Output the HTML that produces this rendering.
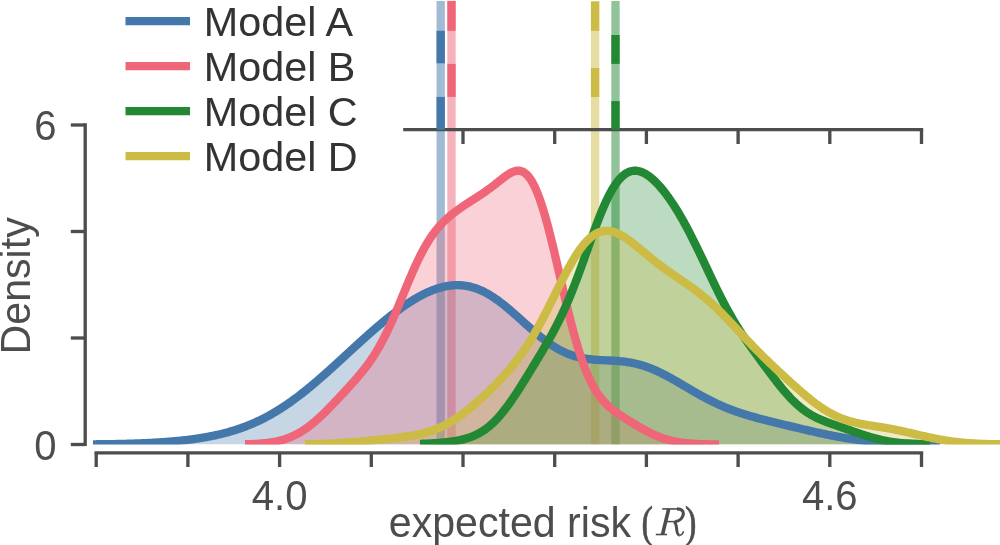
<!DOCTYPE html>
<html><head><meta charset="utf-8"><title>Density of expected risk</title>
<style>html,body{margin:0;padding:0;background:#fff;}body{width:1000px;height:545px;overflow:hidden;}svg{display:block;will-change:transform;}text{font-family:"Liberation Sans",sans-serif;}.m{font-family:"Liberation Serif",serif;}</style></head><body>
<svg width="1000" height="545" viewBox="0 0 1000 545">
<rect x="0" y="0" width="1000" height="545" fill="#ffffff"/>
<defs><clipPath id="ax"><rect x="0" y="-10" width="1000" height="454.6"/></clipPath></defs>
<g clip-path="url(#ax)">
<line x1="440.7" y1="0.9" x2="440.7" y2="444.5" stroke="#4477AA" stroke-opacity="0.5" stroke-width="8.33"/>
<line x1="451.5" y1="0.9" x2="451.5" y2="444.5" stroke="#EE6677" stroke-opacity="0.5" stroke-width="8.33"/>
<line x1="615.5" y1="0.9" x2="615.5" y2="444.5" stroke="#228833" stroke-opacity="0.5" stroke-width="8.33"/>
<line x1="595.1" y1="1.4" x2="595.1" y2="444.5" stroke="#CCBB44" stroke-opacity="0.5" stroke-width="8.33"/>
<path d="M93.0,444.32 L94.0,444.31 L95.0,444.30 L96.0,444.29 L97.0,444.28 L98.0,444.27 L99.0,444.26 L100.0,444.25 L101.0,444.24 L102.0,444.23 L103.0,444.22 L104.0,444.20 L105.0,444.19 L106.0,444.18 L107.0,444.16 L108.0,444.15 L109.0,444.14 L110.0,444.12 L111.0,444.11 L112.0,444.09 L113.0,444.07 L114.0,444.06 L115.0,444.04 L116.0,444.02 L117.0,444.00 L118.0,443.98 L119.0,443.96 L120.0,443.94 L121.0,443.92 L122.0,443.89 L123.0,443.87 L124.0,443.85 L125.0,443.82 L126.0,443.80 L127.0,443.77 L128.0,443.74 L129.0,443.72 L130.0,443.69 L131.0,443.66 L132.0,443.63 L133.0,443.60 L134.0,443.56 L135.0,443.53 L136.0,443.50 L137.0,443.46 L138.0,443.43 L139.0,443.39 L140.0,443.35 L141.0,443.31 L142.0,443.27 L143.0,443.23 L144.0,443.19 L145.0,443.14 L146.0,443.10 L147.0,443.05 L148.0,443.00 L149.0,442.96 L150.0,442.91 L151.0,442.86 L152.0,442.80 L153.0,442.75 L154.0,442.69 L155.0,442.64 L156.0,442.58 L157.0,442.52 L158.0,442.46 L159.0,442.40 L160.0,442.33 L161.0,442.27 L162.0,442.20 L163.0,442.13 L164.0,442.06 L165.0,441.99 L166.0,441.92 L167.0,441.84 L168.0,441.76 L169.0,441.69 L170.0,441.60 L171.0,441.52 L172.0,441.44 L173.0,441.35 L174.0,441.26 L175.0,441.17 L176.0,441.08 L177.0,440.98 L178.0,440.89 L179.0,440.79 L180.0,440.69 L181.0,440.58 L182.0,440.48 L183.0,440.37 L184.0,440.26 L185.0,440.15 L186.0,440.03 L187.0,439.91 L188.0,439.79 L189.0,439.67 L190.0,439.54 L191.0,439.42 L192.0,439.29 L193.0,439.15 L194.0,439.01 L195.0,438.87 L196.0,438.73 L197.0,438.59 L198.0,438.44 L199.0,438.28 L200.0,438.13 L201.0,437.97 L202.0,437.81 L203.0,437.64 L204.0,437.47 L205.0,437.30 L206.0,437.12 L207.0,436.94 L208.0,436.76 L209.0,436.57 L210.0,436.38 L211.0,436.19 L212.0,435.99 L213.0,435.78 L214.0,435.58 L215.0,435.36 L216.0,435.15 L217.0,434.93 L218.0,434.70 L219.0,434.47 L220.0,434.24 L221.0,434.00 L222.0,433.75 L223.0,433.51 L224.0,433.25 L225.0,432.99 L226.0,432.73 L227.0,432.46 L228.0,432.19 L229.0,431.91 L230.0,431.62 L231.0,431.33 L232.0,431.04 L233.0,430.73 L234.0,430.43 L235.0,430.11 L236.0,429.79 L237.0,429.47 L238.0,429.14 L239.0,428.80 L240.0,428.46 L241.0,428.11 L242.0,427.75 L243.0,427.39 L244.0,427.02 L245.0,426.65 L246.0,426.26 L247.0,425.87 L248.0,425.48 L249.0,425.08 L250.0,424.67 L251.0,424.25 L252.0,423.83 L253.0,423.40 L254.0,422.96 L255.0,422.52 L256.0,422.07 L257.0,421.61 L258.0,421.14 L259.0,420.67 L260.0,420.19 L261.0,419.70 L262.0,419.21 L263.0,418.71 L264.0,418.20 L265.0,417.68 L266.0,417.15 L267.0,416.62 L268.0,416.08 L269.0,415.53 L270.0,414.98 L271.0,414.42 L272.0,413.85 L273.0,413.27 L274.0,412.69 L275.0,412.09 L276.0,411.49 L277.0,410.89 L278.0,410.27 L279.0,409.65 L280.0,409.02 L281.0,408.38 L282.0,407.74 L283.0,407.09 L284.0,406.43 L285.0,405.76 L286.0,405.09 L287.0,404.41 L288.0,403.72 L289.0,403.03 L290.0,402.33 L291.0,401.62 L292.0,400.90 L293.0,400.18 L294.0,399.45 L295.0,398.72 L296.0,397.97 L297.0,397.23 L298.0,396.47 L299.0,395.71 L300.0,394.94 L301.0,394.17 L302.0,393.39 L303.0,392.61 L304.0,391.82 L305.0,391.02 L306.0,390.22 L307.0,389.41 L308.0,388.60 L309.0,387.78 L310.0,386.96 L311.0,386.13 L312.0,385.29 L313.0,384.46 L314.0,383.61 L315.0,382.77 L316.0,381.91 L317.0,381.06 L318.0,380.20 L319.0,379.33 L320.0,378.46 L321.0,377.59 L322.0,376.72 L323.0,375.84 L324.0,374.96 L325.0,374.07 L326.0,373.18 L327.0,372.29 L328.0,371.39 L329.0,370.50 L330.0,369.60 L331.0,368.69 L332.0,367.79 L333.0,366.88 L334.0,365.98 L335.0,365.07 L336.0,364.15 L337.0,363.24 L338.0,362.32 L339.0,361.41 L340.0,360.49 L341.0,359.57 L342.0,358.65 L343.0,357.73 L344.0,356.81 L345.0,355.89 L346.0,354.97 L347.0,354.05 L348.0,353.13 L349.0,352.21 L350.0,351.29 L351.0,350.37 L352.0,349.45 L353.0,348.53 L354.0,347.62 L355.0,346.70 L356.0,345.78 L357.0,344.87 L358.0,343.96 L359.0,343.05 L360.0,342.14 L361.0,341.23 L362.0,340.33 L363.0,339.43 L364.0,338.53 L365.0,337.63 L366.0,336.73 L367.0,335.84 L368.0,334.95 L369.0,334.06 L370.0,333.18 L371.0,332.30 L372.0,331.42 L373.0,330.55 L374.0,329.68 L375.0,328.82 L376.0,327.96 L377.0,327.10 L378.0,326.25 L379.0,325.40 L380.0,324.55 L381.0,323.71 L382.0,322.88 L383.0,322.05 L384.0,321.22 L385.0,320.41 L386.0,319.59 L387.0,318.78 L388.0,317.98 L389.0,317.18 L390.0,316.39 L391.0,315.61 L392.0,314.83 L393.0,314.05 L394.0,313.29 L395.0,312.53 L396.0,311.77 L397.0,311.03 L398.0,310.29 L399.0,309.56 L400.0,308.83 L401.0,308.11 L402.0,307.40 L403.0,306.70 L404.0,306.01 L405.0,305.32 L406.0,304.64 L407.0,303.97 L408.0,303.31 L409.0,302.66 L410.0,302.02 L411.0,301.38 L412.0,300.76 L413.0,300.14 L414.0,299.53 L415.0,298.94 L416.0,298.35 L417.0,297.77 L418.0,297.20 L419.0,296.65 L420.0,296.10 L421.0,295.57 L422.0,295.04 L423.0,294.53 L424.0,294.03 L425.0,293.54 L426.0,293.06 L427.0,292.59 L428.0,292.14 L429.0,291.69 L430.0,291.26 L431.0,290.85 L432.0,290.44 L433.0,290.05 L434.0,289.67 L435.0,289.31 L436.0,288.96 L437.0,288.62 L438.0,288.30 L439.0,287.99 L440.0,287.70 L441.0,287.42 L442.0,287.16 L443.0,286.91 L444.0,286.68 L445.0,286.46 L446.0,286.26 L447.0,286.08 L448.0,285.91 L449.0,285.76 L450.0,285.62 L451.0,285.50 L452.0,285.40 L453.0,285.32 L454.0,285.25 L455.0,285.20 L456.0,285.17 L457.0,285.15 L458.0,285.16 L459.0,285.18 L460.0,285.22 L461.0,285.28 L462.0,285.35 L463.0,285.45 L464.0,285.56 L465.0,285.70 L466.0,285.85 L467.0,286.02 L468.0,286.21 L469.0,286.42 L470.0,286.65 L471.0,286.90 L472.0,287.16 L473.0,287.45 L474.0,287.75 L475.0,288.08 L476.0,288.42 L477.0,288.78 L478.0,289.16 L479.0,289.56 L480.0,289.98 L481.0,290.42 L482.0,290.87 L483.0,291.35 L484.0,291.84 L485.0,292.35 L486.0,292.87 L487.0,293.42 L488.0,293.98 L489.0,294.56 L490.0,295.16 L491.0,295.77 L492.0,296.40 L493.0,297.04 L494.0,297.70 L495.0,298.38 L496.0,299.07 L497.0,299.77 L498.0,300.49 L499.0,301.22 L500.0,301.97 L501.0,302.72 L502.0,303.49 L503.0,304.28 L504.0,305.07 L505.0,305.87 L506.0,306.69 L507.0,307.51 L508.0,308.35 L509.0,309.19 L510.0,310.04 L511.0,310.90 L512.0,311.77 L513.0,312.64 L514.0,313.52 L515.0,314.40 L516.0,315.29 L517.0,316.18 L518.0,317.07 L519.0,317.97 L520.0,318.87 L521.0,319.77 L522.0,320.68 L523.0,321.58 L524.0,322.48 L525.0,323.39 L526.0,324.29 L527.0,325.19 L528.0,326.08 L529.0,326.97 L530.0,327.86 L531.0,328.74 L532.0,329.62 L533.0,330.50 L534.0,331.36 L535.0,332.22 L536.0,333.07 L537.0,333.92 L538.0,334.75 L539.0,335.58 L540.0,336.39 L541.0,337.20 L542.0,337.99 L543.0,338.78 L544.0,339.55 L545.0,340.31 L546.0,341.06 L547.0,341.80 L548.0,342.52 L549.0,343.23 L550.0,343.92 L551.0,344.60 L552.0,345.27 L553.0,345.92 L554.0,346.56 L555.0,347.18 L556.0,347.78 L557.0,348.38 L558.0,348.95 L559.0,349.51 L560.0,350.05 L561.0,350.58 L562.0,351.09 L563.0,351.58 L564.0,352.06 L565.0,352.52 L566.0,352.97 L567.0,353.39 L568.0,353.81 L569.0,354.20 L570.0,354.58 L571.0,354.95 L572.0,355.30 L573.0,355.63 L574.0,355.95 L575.0,356.26 L576.0,356.55 L577.0,356.82 L578.0,357.08 L579.0,357.33 L580.0,357.56 L581.0,357.78 L582.0,357.99 L583.0,358.19 L584.0,358.37 L585.0,358.54 L586.0,358.70 L587.0,358.85 L588.0,358.99 L589.0,359.12 L590.0,359.24 L591.0,359.36 L592.0,359.46 L593.0,359.56 L594.0,359.65 L595.0,359.73 L596.0,359.80 L597.0,359.87 L598.0,359.94 L599.0,360.00 L600.0,360.06 L601.0,360.11 L602.0,360.16 L603.0,360.21 L604.0,360.26 L605.0,360.30 L606.0,360.34 L607.0,360.39 L608.0,360.43 L609.0,360.48 L610.0,360.53 L611.0,360.58 L612.0,360.63 L613.0,360.68 L614.0,360.74 L615.0,360.80 L616.0,360.87 L617.0,360.94 L618.0,361.01 L619.0,361.10 L620.0,361.19 L621.0,361.28 L622.0,361.38 L623.0,361.49 L624.0,361.61 L625.0,361.73 L626.0,361.87 L627.0,362.01 L628.0,362.16 L629.0,362.32 L630.0,362.49 L631.0,362.67 L632.0,362.86 L633.0,363.05 L634.0,363.26 L635.0,363.48 L636.0,363.71 L637.0,363.95 L638.0,364.21 L639.0,364.47 L640.0,364.74 L641.0,365.03 L642.0,365.32 L643.0,365.63 L644.0,365.95 L645.0,366.28 L646.0,366.62 L647.0,366.97 L648.0,367.33 L649.0,367.70 L650.0,368.08 L651.0,368.48 L652.0,368.88 L653.0,369.30 L654.0,369.72 L655.0,370.15 L656.0,370.60 L657.0,371.05 L658.0,371.51 L659.0,371.98 L660.0,372.46 L661.0,372.95 L662.0,373.44 L663.0,373.94 L664.0,374.46 L665.0,374.97 L666.0,375.50 L667.0,376.03 L668.0,376.57 L669.0,377.11 L670.0,377.66 L671.0,378.21 L672.0,378.77 L673.0,379.34 L674.0,379.90 L675.0,380.48 L676.0,381.05 L677.0,381.63 L678.0,382.21 L679.0,382.79 L680.0,383.38 L681.0,383.96 L682.0,384.55 L683.0,385.14 L684.0,385.73 L685.0,386.32 L686.0,386.91 L687.0,387.50 L688.0,388.09 L689.0,388.68 L690.0,389.27 L691.0,389.85 L692.0,390.44 L693.0,391.02 L694.0,391.60 L695.0,392.17 L696.0,392.75 L697.0,393.32 L698.0,393.88 L699.0,394.44 L700.0,395.00 L701.0,395.56 L702.0,396.11 L703.0,396.65 L704.0,397.19 L705.0,397.73 L706.0,398.26 L707.0,398.79 L708.0,399.31 L709.0,399.82 L710.0,400.33 L711.0,400.83 L712.0,401.33 L713.0,401.82 L714.0,402.31 L715.0,402.79 L716.0,403.26 L717.0,403.73 L718.0,404.19 L719.0,404.65 L720.0,405.09 L721.0,405.54 L722.0,405.97 L723.0,406.40 L724.0,406.83 L725.0,407.25 L726.0,407.66 L727.0,408.06 L728.0,408.46 L729.0,408.86 L730.0,409.25 L731.0,409.63 L732.0,410.01 L733.0,410.38 L734.0,410.74 L735.0,411.10 L736.0,411.46 L737.0,411.81 L738.0,412.15 L739.0,412.49 L740.0,412.83 L741.0,413.16 L742.0,413.48 L743.0,413.80 L744.0,414.12 L745.0,414.43 L746.0,414.74 L747.0,415.04 L748.0,415.34 L749.0,415.64 L750.0,415.93 L751.0,416.22 L752.0,416.51 L753.0,416.80 L754.0,417.08 L755.0,417.35 L756.0,417.63 L757.0,417.90 L758.0,418.17 L759.0,418.44 L760.0,418.71 L761.0,418.97 L762.0,419.23 L763.0,419.49 L764.0,419.75 L765.0,420.01 L766.0,420.26 L767.0,420.52 L768.0,420.77 L769.0,421.02 L770.0,421.27 L771.0,421.52 L772.0,421.77 L773.0,422.01 L774.0,422.26 L775.0,422.51 L776.0,422.75 L777.0,423.00 L778.0,423.24 L779.0,423.48 L780.0,423.73 L781.0,423.97 L782.0,424.21 L783.0,424.45 L784.0,424.69 L785.0,424.94 L786.0,425.18 L787.0,425.42 L788.0,425.66 L789.0,425.90 L790.0,426.14 L791.0,426.38 L792.0,426.62 L793.0,426.86 L794.0,427.09 L795.0,427.33 L796.0,427.57 L797.0,427.81 L798.0,428.05 L799.0,428.28 L800.0,428.52 L801.0,428.76 L802.0,428.99 L803.0,429.23 L804.0,429.46 L805.0,429.70 L806.0,429.93 L807.0,430.16 L808.0,430.39 L809.0,430.62 L810.0,430.85 L811.0,431.08 L812.0,431.31 L813.0,431.54 L814.0,431.76 L815.0,431.99 L816.0,432.21 L817.0,432.44 L818.0,432.66 L819.0,432.88 L820.0,433.10 L821.0,433.31 L822.0,433.53 L823.0,433.74 L824.0,433.95 L825.0,434.17 L826.0,434.37 L827.0,434.58 L828.0,434.79 L829.0,434.99 L830.0,435.19 L831.0,435.39 L832.0,435.59 L833.0,435.78 L834.0,435.98 L835.0,436.17 L836.0,436.36 L837.0,436.54 L838.0,436.73 L839.0,436.91 L840.0,437.09 L841.0,437.27 L842.0,437.44 L843.0,437.62 L844.0,437.79 L845.0,437.95 L846.0,438.12 L847.0,438.28 L848.0,438.44 L849.0,438.60 L850.0,438.75 L851.0,438.91 L852.0,439.06 L853.0,439.20 L854.0,439.35 L855.0,439.49 L856.0,439.63 L857.0,439.77 L858.0,439.90 L859.0,440.03 L860.0,440.16 L861.0,440.29 L862.0,440.41 L863.0,440.53 L864.0,440.65 L865.0,440.77 L866.0,440.88 L867.0,440.99 L868.0,441.10 L869.0,441.21 L870.0,441.31 L871.0,441.42 L872.0,441.51 L873.0,441.61 L874.0,441.71 L875.0,441.80 L876.0,441.89 L877.0,441.97 L878.0,442.06 L879.0,442.14 L880.0,442.22 L881.0,442.30 L882.0,442.38 L883.0,442.45 L884.0,442.53 L885.0,442.60 L886.0,442.66 L887.0,442.73 L888.0,442.80 L889.0,442.86 L890.0,442.92 L891.0,442.98 L892.0,443.04 L893.0,443.09 L894.0,443.14 L895.0,443.20 L896.0,443.25 L897.0,443.30 L898.0,443.34 L899.0,443.39 L900.0,443.43 L901.0,443.48 L902.0,443.52 L903.0,443.56 L904.0,443.60 L905.0,443.63 L906.0,443.67 L907.0,443.70 L908.0,443.74 L909.0,443.77 L910.0,443.80 L911.0,443.83 L912.0,443.86 L913.0,443.89 L914.0,443.91 L915.0,443.94 L916.0,443.96 L917.0,443.99 L918.0,444.01 L919.0,444.03 L920.0,444.05 L921.0,444.07 L922.0,444.09 L923.0,444.11 L924.0,444.13 L925.0,444.15 L926.0,444.16 L927.0,444.18 L928.0,444.19 L929.0,444.21 L930.0,444.22 L931.0,444.24 L932.0,444.25 L933.0,444.26 L934.0,444.27 L935.0,444.28 L936.0,444.30 L937.0,444.31 L938.0,444.32 L939.0,444.32 L940.0,444.33 L940.0,444.5 L93.0,444.5 Z" fill="#4477AA" fill-opacity="0.3" stroke="none"/>
<path d="M245.0,444.26 L246.0,444.24 L247.0,444.21 L248.0,444.18 L249.0,444.15 L250.0,444.12 L251.0,444.08 L252.0,444.04 L253.0,444.00 L254.0,443.95 L255.0,443.90 L256.0,443.85 L257.0,443.79 L258.0,443.73 L259.0,443.66 L260.0,443.59 L261.0,443.51 L262.0,443.43 L263.0,443.34 L264.0,443.24 L265.0,443.14 L266.0,443.03 L267.0,442.91 L268.0,442.79 L269.0,442.66 L270.0,442.52 L271.0,442.37 L272.0,442.21 L273.0,442.04 L274.0,441.86 L275.0,441.67 L276.0,441.47 L277.0,441.26 L278.0,441.04 L279.0,440.80 L280.0,440.55 L281.0,440.29 L282.0,440.01 L283.0,439.73 L284.0,439.42 L285.0,439.11 L286.0,438.77 L287.0,438.42 L288.0,438.06 L289.0,437.68 L290.0,437.28 L291.0,436.87 L292.0,436.44 L293.0,435.99 L294.0,435.52 L295.0,435.04 L296.0,434.54 L297.0,434.02 L298.0,433.48 L299.0,432.92 L300.0,432.34 L301.0,431.74 L302.0,431.13 L303.0,430.50 L304.0,429.84 L305.0,429.17 L306.0,428.48 L307.0,427.77 L308.0,427.05 L309.0,426.30 L310.0,425.54 L311.0,424.76 L312.0,423.96 L313.0,423.14 L314.0,422.31 L315.0,421.46 L316.0,420.60 L317.0,419.72 L318.0,418.83 L319.0,417.92 L320.0,416.99 L321.0,416.06 L322.0,415.11 L323.0,414.15 L324.0,413.18 L325.0,412.20 L326.0,411.21 L327.0,410.21 L328.0,409.20 L329.0,408.18 L330.0,407.15 L331.0,406.12 L332.0,405.08 L333.0,404.04 L334.0,402.99 L335.0,401.94 L336.0,400.88 L337.0,399.82 L338.0,398.75 L339.0,397.69 L340.0,396.62 L341.0,395.54 L342.0,394.47 L343.0,393.39 L344.0,392.31 L345.0,391.23 L346.0,390.14 L347.0,389.05 L348.0,387.96 L349.0,386.87 L350.0,385.77 L351.0,384.67 L352.0,383.56 L353.0,382.44 L354.0,381.32 L355.0,380.19 L356.0,379.05 L357.0,377.90 L358.0,376.73 L359.0,375.56 L360.0,374.37 L361.0,373.17 L362.0,371.94 L363.0,370.70 L364.0,369.44 L365.0,368.16 L366.0,366.86 L367.0,365.53 L368.0,364.17 L369.0,362.78 L370.0,361.37 L371.0,359.93 L372.0,358.45 L373.0,356.94 L374.0,355.39 L375.0,353.81 L376.0,352.19 L377.0,350.54 L378.0,348.84 L379.0,347.10 L380.0,345.33 L381.0,343.51 L382.0,341.66 L383.0,339.76 L384.0,337.82 L385.0,335.85 L386.0,333.83 L387.0,331.77 L388.0,329.68 L389.0,327.55 L390.0,325.38 L391.0,323.18 L392.0,320.95 L393.0,318.69 L394.0,316.40 L395.0,314.08 L396.0,311.74 L397.0,309.38 L398.0,307.00 L399.0,304.60 L400.0,302.19 L401.0,299.78 L402.0,297.35 L403.0,294.93 L404.0,292.50 L405.0,290.08 L406.0,287.66 L407.0,285.26 L408.0,282.86 L409.0,280.49 L410.0,278.13 L411.0,275.79 L412.0,273.48 L413.0,271.20 L414.0,268.95 L415.0,266.73 L416.0,264.55 L417.0,262.41 L418.0,260.30 L419.0,258.24 L420.0,256.22 L421.0,254.25 L422.0,252.32 L423.0,250.43 L424.0,248.60 L425.0,246.81 L426.0,245.07 L427.0,243.38 L428.0,241.74 L429.0,240.15 L430.0,238.60 L431.0,237.11 L432.0,235.65 L433.0,234.25 L434.0,232.89 L435.0,231.57 L436.0,230.29 L437.0,229.06 L438.0,227.86 L439.0,226.70 L440.0,225.58 L441.0,224.49 L442.0,223.43 L443.0,222.41 L444.0,221.41 L445.0,220.44 L446.0,219.50 L447.0,218.58 L448.0,217.69 L449.0,216.82 L450.0,215.97 L451.0,215.14 L452.0,214.32 L453.0,213.52 L454.0,212.74 L455.0,211.97 L456.0,211.22 L457.0,210.48 L458.0,209.75 L459.0,209.03 L460.0,208.32 L461.0,207.62 L462.0,206.93 L463.0,206.24 L464.0,205.57 L465.0,204.90 L466.0,204.23 L467.0,203.58 L468.0,202.92 L469.0,202.27 L470.0,201.63 L471.0,200.99 L472.0,200.35 L473.0,199.71 L474.0,199.07 L475.0,198.43 L476.0,197.79 L477.0,197.15 L478.0,196.50 L479.0,195.85 L480.0,195.20 L481.0,194.54 L482.0,193.87 L483.0,193.20 L484.0,192.52 L485.0,191.83 L486.0,191.13 L487.0,190.43 L488.0,189.71 L489.0,188.98 L490.0,188.24 L491.0,187.50 L492.0,186.74 L493.0,185.97 L494.0,185.20 L495.0,184.42 L496.0,183.63 L497.0,182.83 L498.0,182.04 L499.0,181.24 L500.0,180.44 L501.0,179.65 L502.0,178.86 L503.0,178.09 L504.0,177.33 L505.0,176.58 L506.0,175.86 L507.0,175.17 L508.0,174.50 L509.0,173.87 L510.0,173.28 L511.0,172.74 L512.0,172.25 L513.0,171.81 L514.0,171.44 L515.0,171.14 L516.0,170.91 L517.0,170.76 L518.0,170.69 L519.0,170.72 L520.0,170.85 L521.0,171.07 L522.0,171.41 L523.0,171.85 L524.0,172.42 L525.0,173.10 L526.0,173.92 L527.0,174.86 L528.0,175.94 L529.0,177.15 L530.0,178.50 L531.0,180.00 L532.0,181.64 L533.0,183.42 L534.0,185.35 L535.0,187.42 L536.0,189.64 L537.0,192.00 L538.0,194.50 L539.0,197.15 L540.0,199.93 L541.0,202.85 L542.0,205.90 L543.0,209.07 L544.0,212.37 L545.0,215.79 L546.0,219.31 L547.0,222.95 L548.0,226.68 L549.0,230.50 L550.0,234.41 L551.0,238.40 L552.0,242.46 L553.0,246.59 L554.0,250.76 L555.0,254.99 L556.0,259.26 L557.0,263.55 L558.0,267.87 L559.0,272.20 L560.0,276.54 L561.0,280.88 L562.0,285.21 L563.0,289.52 L564.0,293.81 L565.0,298.06 L566.0,302.28 L567.0,306.45 L568.0,310.57 L569.0,314.63 L570.0,318.62 L571.0,322.55 L572.0,326.40 L573.0,330.18 L574.0,333.87 L575.0,337.47 L576.0,340.99 L577.0,344.41 L578.0,347.74 L579.0,350.97 L580.0,354.11 L581.0,357.14 L582.0,360.07 L583.0,362.90 L584.0,365.64 L585.0,368.27 L586.0,370.80 L587.0,373.23 L588.0,375.57 L589.0,377.80 L590.0,379.95 L591.0,382.00 L592.0,383.97 L593.0,385.84 L594.0,387.64 L595.0,389.35 L596.0,390.98 L597.0,392.54 L598.0,394.02 L599.0,395.44 L600.0,396.79 L601.0,398.08 L602.0,399.32 L603.0,400.49 L604.0,401.62 L605.0,402.69 L606.0,403.72 L607.0,404.71 L608.0,405.66 L609.0,406.57 L610.0,407.46 L611.0,408.31 L612.0,409.13 L613.0,409.93 L614.0,410.70 L615.0,411.45 L616.0,412.19 L617.0,412.91 L618.0,413.61 L619.0,414.31 L620.0,414.99 L621.0,415.66 L622.0,416.32 L623.0,416.97 L624.0,417.62 L625.0,418.26 L626.0,418.89 L627.0,419.53 L628.0,420.15 L629.0,420.78 L630.0,421.39 L631.0,422.01 L632.0,422.62 L633.0,423.23 L634.0,423.84 L635.0,424.44 L636.0,425.03 L637.0,425.63 L638.0,426.22 L639.0,426.80 L640.0,427.38 L641.0,427.95 L642.0,428.51 L643.0,429.07 L644.0,429.63 L645.0,430.17 L646.0,430.71 L647.0,431.24 L648.0,431.75 L649.0,432.26 L650.0,432.76 L651.0,433.25 L652.0,433.73 L653.0,434.20 L654.0,434.66 L655.0,435.10 L656.0,435.54 L657.0,435.96 L658.0,436.37 L659.0,436.77 L660.0,437.15 L661.0,437.53 L662.0,437.89 L663.0,438.23 L664.0,438.57 L665.0,438.89 L666.0,439.20 L667.0,439.50 L668.0,439.79 L669.0,440.06 L670.0,440.32 L671.0,440.57 L672.0,440.81 L673.0,441.04 L674.0,441.26 L675.0,441.47 L676.0,441.66 L677.0,441.85 L678.0,442.03 L679.0,442.19 L680.0,442.35 L681.0,442.50 L682.0,442.64 L683.0,442.77 L684.0,442.90 L685.0,443.02 L686.0,443.13 L687.0,443.23 L688.0,443.33 L689.0,443.42 L690.0,443.50 L691.0,443.58 L692.0,443.65 L693.0,443.72 L694.0,443.78 L695.0,443.84 L696.0,443.90 L697.0,443.95 L698.0,444.00 L699.0,444.04 L700.0,444.08 L701.0,444.12 L702.0,444.15 L703.0,444.18 L704.0,444.21 L705.0,444.24 L706.0,444.26 L707.0,444.28 L708.0,444.30 L709.0,444.32 L710.0,444.34 L711.0,444.36 L712.0,444.37 L713.0,444.38 L714.0,444.39 L715.0,444.41 L716.0,444.41 L717.0,444.42 L718.0,444.43 L719.0,444.44 L719.0,444.5 L245.0,444.5 Z" fill="#EE6677" fill-opacity="0.3" stroke="none"/>
<path d="M420.0,443.87 L421.0,443.83 L422.0,443.79 L423.0,443.76 L424.0,443.72 L425.0,443.67 L426.0,443.63 L427.0,443.58 L428.0,443.54 L429.0,443.49 L430.0,443.44 L431.0,443.38 L432.0,443.33 L433.0,443.27 L434.0,443.21 L435.0,443.14 L436.0,443.08 L437.0,443.01 L438.0,442.94 L439.0,442.86 L440.0,442.78 L441.0,442.70 L442.0,442.61 L443.0,442.52 L444.0,442.43 L445.0,442.33 L446.0,442.23 L447.0,442.12 L448.0,442.00 L449.0,441.88 L450.0,441.76 L451.0,441.63 L452.0,441.49 L453.0,441.34 L454.0,441.19 L455.0,441.03 L456.0,440.86 L457.0,440.68 L458.0,440.49 L459.0,440.30 L460.0,440.09 L461.0,439.87 L462.0,439.64 L463.0,439.39 L464.0,439.14 L465.0,438.87 L466.0,438.58 L467.0,438.28 L468.0,437.97 L469.0,437.64 L470.0,437.29 L471.0,436.92 L472.0,436.54 L473.0,436.13 L474.0,435.71 L475.0,435.26 L476.0,434.79 L477.0,434.30 L478.0,433.79 L479.0,433.25 L480.0,432.69 L481.0,432.10 L482.0,431.49 L483.0,430.85 L484.0,430.19 L485.0,429.49 L486.0,428.77 L487.0,428.02 L488.0,427.24 L489.0,426.43 L490.0,425.59 L491.0,424.72 L492.0,423.82 L493.0,422.89 L494.0,421.93 L495.0,420.94 L496.0,419.92 L497.0,418.86 L498.0,417.78 L499.0,416.67 L500.0,415.53 L501.0,414.36 L502.0,413.16 L503.0,411.93 L504.0,410.67 L505.0,409.39 L506.0,408.08 L507.0,406.75 L508.0,405.39 L509.0,404.01 L510.0,402.61 L511.0,401.18 L512.0,399.74 L513.0,398.27 L514.0,396.79 L515.0,395.29 L516.0,393.77 L517.0,392.24 L518.0,390.70 L519.0,389.14 L520.0,387.57 L521.0,385.99 L522.0,384.40 L523.0,382.80 L524.0,381.20 L525.0,379.58 L526.0,377.97 L527.0,376.34 L528.0,374.72 L529.0,373.09 L530.0,371.45 L531.0,369.81 L532.0,368.17 L533.0,366.53 L534.0,364.88 L535.0,363.24 L536.0,361.58 L537.0,359.93 L538.0,358.27 L539.0,356.61 L540.0,354.94 L541.0,353.27 L542.0,351.59 L543.0,349.90 L544.0,348.20 L545.0,346.50 L546.0,344.78 L547.0,343.05 L548.0,341.30 L549.0,339.54 L550.0,337.76 L551.0,335.97 L552.0,334.15 L553.0,332.31 L554.0,330.45 L555.0,328.56 L556.0,326.64 L557.0,324.70 L558.0,322.72 L559.0,320.72 L560.0,318.68 L561.0,316.61 L562.0,314.50 L563.0,312.36 L564.0,310.18 L565.0,307.96 L566.0,305.71 L567.0,303.42 L568.0,301.09 L569.0,298.72 L570.0,296.31 L571.0,293.86 L572.0,291.38 L573.0,288.87 L574.0,286.31 L575.0,283.73 L576.0,281.11 L577.0,278.46 L578.0,275.78 L579.0,273.08 L580.0,270.35 L581.0,267.60 L582.0,264.83 L583.0,262.05 L584.0,259.25 L585.0,256.45 L586.0,253.63 L587.0,250.82 L588.0,248.00 L589.0,245.19 L590.0,242.38 L591.0,239.59 L592.0,236.81 L593.0,234.05 L594.0,231.32 L595.0,228.61 L596.0,225.93 L597.0,223.29 L598.0,220.68 L599.0,218.11 L600.0,215.59 L601.0,213.12 L602.0,210.70 L603.0,208.33 L604.0,206.02 L605.0,203.77 L606.0,201.58 L607.0,199.46 L608.0,197.40 L609.0,195.42 L610.0,193.51 L611.0,191.67 L612.0,189.90 L613.0,188.21 L614.0,186.60 L615.0,185.07 L616.0,183.61 L617.0,182.24 L618.0,180.94 L619.0,179.72 L620.0,178.59 L621.0,177.53 L622.0,176.56 L623.0,175.66 L624.0,174.84 L625.0,174.10 L626.0,173.44 L627.0,172.85 L628.0,172.33 L629.0,171.89 L630.0,171.53 L631.0,171.23 L632.0,171.00 L633.0,170.84 L634.0,170.75 L635.0,170.72 L636.0,170.75 L637.0,170.85 L638.0,171.00 L639.0,171.22 L640.0,171.49 L641.0,171.81 L642.0,172.19 L643.0,172.63 L644.0,173.11 L645.0,173.64 L646.0,174.22 L647.0,174.84 L648.0,175.51 L649.0,176.23 L650.0,176.98 L651.0,177.78 L652.0,178.62 L653.0,179.49 L654.0,180.41 L655.0,181.36 L656.0,182.34 L657.0,183.37 L658.0,184.42 L659.0,185.51 L660.0,186.63 L661.0,187.79 L662.0,188.98 L663.0,190.20 L664.0,191.44 L665.0,192.72 L666.0,194.03 L667.0,195.37 L668.0,196.74 L669.0,198.14 L670.0,199.56 L671.0,201.02 L672.0,202.50 L673.0,204.01 L674.0,205.54 L675.0,207.11 L676.0,208.70 L677.0,210.31 L678.0,211.96 L679.0,213.63 L680.0,215.33 L681.0,217.05 L682.0,218.79 L683.0,220.56 L684.0,222.36 L685.0,224.18 L686.0,226.02 L687.0,227.89 L688.0,229.78 L689.0,231.69 L690.0,233.62 L691.0,235.57 L692.0,237.53 L693.0,239.52 L694.0,241.53 L695.0,243.55 L696.0,245.58 L697.0,247.63 L698.0,249.70 L699.0,251.77 L700.0,253.86 L701.0,255.95 L702.0,258.06 L703.0,260.16 L704.0,262.28 L705.0,264.39 L706.0,266.51 L707.0,268.63 L708.0,270.75 L709.0,272.87 L710.0,274.98 L711.0,277.09 L712.0,279.18 L713.0,281.28 L714.0,283.36 L715.0,285.43 L716.0,287.48 L717.0,289.52 L718.0,291.55 L719.0,293.56 L720.0,295.56 L721.0,297.53 L722.0,299.49 L723.0,301.42 L724.0,303.34 L725.0,305.23 L726.0,307.10 L727.0,308.95 L728.0,310.78 L729.0,312.58 L730.0,314.36 L731.0,316.12 L732.0,317.85 L733.0,319.56 L734.0,321.25 L735.0,322.92 L736.0,324.56 L737.0,326.18 L738.0,327.79 L739.0,329.37 L740.0,330.93 L741.0,332.47 L742.0,334.00 L743.0,335.51 L744.0,337.00 L745.0,338.48 L746.0,339.95 L747.0,341.40 L748.0,342.84 L749.0,344.27 L750.0,345.69 L751.0,347.10 L752.0,348.50 L753.0,349.89 L754.0,351.28 L755.0,352.66 L756.0,354.04 L757.0,355.41 L758.0,356.77 L759.0,358.14 L760.0,359.50 L761.0,360.86 L762.0,362.21 L763.0,363.56 L764.0,364.91 L765.0,366.26 L766.0,367.60 L767.0,368.94 L768.0,370.28 L769.0,371.62 L770.0,372.94 L771.0,374.27 L772.0,375.59 L773.0,376.90 L774.0,378.21 L775.0,379.51 L776.0,380.80 L777.0,382.08 L778.0,383.35 L779.0,384.61 L780.0,385.86 L781.0,387.10 L782.0,388.32 L783.0,389.53 L784.0,390.72 L785.0,391.89 L786.0,393.05 L787.0,394.19 L788.0,395.31 L789.0,396.41 L790.0,397.49 L791.0,398.55 L792.0,399.58 L793.0,400.59 L794.0,401.58 L795.0,402.55 L796.0,403.49 L797.0,404.41 L798.0,405.31 L799.0,406.18 L800.0,407.02 L801.0,407.84 L802.0,408.64 L803.0,409.41 L804.0,410.16 L805.0,410.89 L806.0,411.59 L807.0,412.27 L808.0,412.92 L809.0,413.56 L810.0,414.17 L811.0,414.77 L812.0,415.34 L813.0,415.89 L814.0,416.43 L815.0,416.95 L816.0,417.45 L817.0,417.94 L818.0,418.41 L819.0,418.87 L820.0,419.32 L821.0,419.75 L822.0,420.18 L823.0,420.59 L824.0,420.99 L825.0,421.39 L826.0,421.77 L827.0,422.15 L828.0,422.53 L829.0,422.90 L830.0,423.26 L831.0,423.62 L832.0,423.98 L833.0,424.33 L834.0,424.68 L835.0,425.03 L836.0,425.38 L837.0,425.73 L838.0,426.07 L839.0,426.42 L840.0,426.77 L841.0,427.11 L842.0,427.46 L843.0,427.81 L844.0,428.15 L845.0,428.50 L846.0,428.85 L847.0,429.20 L848.0,429.55 L849.0,429.90 L850.0,430.25 L851.0,430.60 L852.0,430.96 L853.0,431.31 L854.0,431.66 L855.0,432.00 L856.0,432.35 L857.0,432.70 L858.0,433.04 L859.0,433.39 L860.0,433.73 L861.0,434.07 L862.0,434.40 L863.0,434.73 L864.0,435.06 L865.0,435.39 L866.0,435.71 L867.0,436.02 L868.0,436.33 L869.0,436.64 L870.0,436.94 L871.0,437.24 L872.0,437.53 L873.0,437.81 L874.0,438.09 L875.0,438.36 L876.0,438.62 L877.0,438.88 L878.0,439.13 L879.0,439.38 L880.0,439.62 L881.0,439.85 L882.0,440.07 L883.0,440.29 L884.0,440.50 L885.0,440.70 L886.0,440.89 L887.0,441.08 L888.0,441.26 L889.0,441.44 L890.0,441.61 L891.0,441.77 L892.0,441.92 L893.0,442.07 L894.0,442.21 L895.0,442.35 L896.0,442.48 L897.0,442.60 L898.0,442.72 L899.0,442.83 L900.0,442.93 L901.0,443.03 L902.0,443.13 L903.0,443.22 L904.0,443.30 L905.0,443.38 L906.0,443.46 L907.0,443.53 L908.0,443.60 L909.0,443.66 L910.0,443.72 L911.0,443.78 L912.0,443.83 L913.0,443.88 L914.0,443.93 L915.0,443.97 L916.0,444.01 L917.0,444.05 L918.0,444.09 L919.0,444.12 L920.0,444.15 L921.0,444.18 L922.0,444.20 L923.0,444.23 L924.0,444.25 L925.0,444.27 L926.0,444.29 L927.0,444.31 L928.0,444.33 L929.0,444.34 L930.0,444.36 L930.0,444.5 L420.0,444.5 Z" fill="#228833" fill-opacity="0.3" stroke="none"/>
<path d="M305.0,444.24 L306.0,444.23 L307.0,444.21 L308.0,444.19 L309.0,444.17 L310.0,444.16 L311.0,444.14 L312.0,444.11 L313.0,444.09 L314.0,444.07 L315.0,444.04 L316.0,444.02 L317.0,443.99 L318.0,443.97 L319.0,443.94 L320.0,443.91 L321.0,443.88 L322.0,443.84 L323.0,443.81 L324.0,443.77 L325.0,443.74 L326.0,443.70 L327.0,443.66 L328.0,443.62 L329.0,443.58 L330.0,443.54 L331.0,443.49 L332.0,443.44 L333.0,443.40 L334.0,443.35 L335.0,443.30 L336.0,443.24 L337.0,443.19 L338.0,443.14 L339.0,443.08 L340.0,443.02 L341.0,442.96 L342.0,442.90 L343.0,442.83 L344.0,442.77 L345.0,442.70 L346.0,442.64 L347.0,442.57 L348.0,442.50 L349.0,442.42 L350.0,442.35 L351.0,442.27 L352.0,442.20 L353.0,442.12 L354.0,442.04 L355.0,441.96 L356.0,441.88 L357.0,441.79 L358.0,441.71 L359.0,441.62 L360.0,441.54 L361.0,441.45 L362.0,441.36 L363.0,441.27 L364.0,441.18 L365.0,441.09 L366.0,440.99 L367.0,440.90 L368.0,440.80 L369.0,440.71 L370.0,440.61 L371.0,440.51 L372.0,440.42 L373.0,440.32 L374.0,440.22 L375.0,440.12 L376.0,440.02 L377.0,439.92 L378.0,439.81 L379.0,439.71 L380.0,439.61 L381.0,439.50 L382.0,439.40 L383.0,439.29 L384.0,439.19 L385.0,439.08 L386.0,438.97 L387.0,438.86 L388.0,438.76 L389.0,438.64 L390.0,438.53 L391.0,438.42 L392.0,438.31 L393.0,438.19 L394.0,438.08 L395.0,437.96 L396.0,437.84 L397.0,437.72 L398.0,437.59 L399.0,437.47 L400.0,437.34 L401.0,437.21 L402.0,437.08 L403.0,436.94 L404.0,436.80 L405.0,436.66 L406.0,436.51 L407.0,436.36 L408.0,436.21 L409.0,436.05 L410.0,435.89 L411.0,435.72 L412.0,435.55 L413.0,435.37 L414.0,435.18 L415.0,434.99 L416.0,434.80 L417.0,434.59 L418.0,434.38 L419.0,434.17 L420.0,433.94 L421.0,433.71 L422.0,433.47 L423.0,433.22 L424.0,432.96 L425.0,432.69 L426.0,432.41 L427.0,432.12 L428.0,431.83 L429.0,431.52 L430.0,431.20 L431.0,430.87 L432.0,430.53 L433.0,430.18 L434.0,429.81 L435.0,429.43 L436.0,429.05 L437.0,428.64 L438.0,428.23 L439.0,427.80 L440.0,427.36 L441.0,426.91 L442.0,426.44 L443.0,425.97 L444.0,425.47 L445.0,424.97 L446.0,424.45 L447.0,423.91 L448.0,423.36 L449.0,422.80 L450.0,422.23 L451.0,421.64 L452.0,421.04 L453.0,420.42 L454.0,419.79 L455.0,419.15 L456.0,418.50 L457.0,417.83 L458.0,417.15 L459.0,416.45 L460.0,415.75 L461.0,415.03 L462.0,414.30 L463.0,413.56 L464.0,412.80 L465.0,412.04 L466.0,411.27 L467.0,410.48 L468.0,409.68 L469.0,408.88 L470.0,408.06 L471.0,407.24 L472.0,406.40 L473.0,405.56 L474.0,404.71 L475.0,403.85 L476.0,402.98 L477.0,402.10 L478.0,401.22 L479.0,400.32 L480.0,399.42 L481.0,398.52 L482.0,397.60 L483.0,396.68 L484.0,395.75 L485.0,394.82 L486.0,393.88 L487.0,392.93 L488.0,391.97 L489.0,391.01 L490.0,390.04 L491.0,389.07 L492.0,388.08 L493.0,387.09 L494.0,386.09 L495.0,385.09 L496.0,384.07 L497.0,383.05 L498.0,382.01 L499.0,380.97 L500.0,379.92 L501.0,378.86 L502.0,377.79 L503.0,376.70 L504.0,375.61 L505.0,374.50 L506.0,373.38 L507.0,372.25 L508.0,371.10 L509.0,369.94 L510.0,368.76 L511.0,367.56 L512.0,366.35 L513.0,365.12 L514.0,363.88 L515.0,362.61 L516.0,361.33 L517.0,360.03 L518.0,358.70 L519.0,357.36 L520.0,355.99 L521.0,354.61 L522.0,353.20 L523.0,351.76 L524.0,350.31 L525.0,348.83 L526.0,347.32 L527.0,345.79 L528.0,344.24 L529.0,342.67 L530.0,341.06 L531.0,339.44 L532.0,337.79 L533.0,336.11 L534.0,334.41 L535.0,332.69 L536.0,330.95 L537.0,329.18 L538.0,327.39 L539.0,325.57 L540.0,323.74 L541.0,321.89 L542.0,320.01 L543.0,318.12 L544.0,316.21 L545.0,314.28 L546.0,312.34 L547.0,310.39 L548.0,308.42 L549.0,306.44 L550.0,304.45 L551.0,302.46 L552.0,300.45 L553.0,298.45 L554.0,296.43 L555.0,294.42 L556.0,292.41 L557.0,290.40 L558.0,288.40 L559.0,286.40 L560.0,284.41 L561.0,282.43 L562.0,280.46 L563.0,278.50 L564.0,276.57 L565.0,274.65 L566.0,272.75 L567.0,270.87 L568.0,269.02 L569.0,267.20 L570.0,265.40 L571.0,263.64 L572.0,261.90 L573.0,260.20 L574.0,258.54 L575.0,256.91 L576.0,255.32 L577.0,253.78 L578.0,252.27 L579.0,250.81 L580.0,249.40 L581.0,248.03 L582.0,246.71 L583.0,245.44 L584.0,244.22 L585.0,243.04 L586.0,241.92 L587.0,240.86 L588.0,239.84 L589.0,238.88 L590.0,237.98 L591.0,237.13 L592.0,236.33 L593.0,235.59 L594.0,234.91 L595.0,234.27 L596.0,233.70 L597.0,233.18 L598.0,232.71 L599.0,232.30 L600.0,231.94 L601.0,231.63 L602.0,231.38 L603.0,231.18 L604.0,231.03 L605.0,230.92 L606.0,230.87 L607.0,230.87 L608.0,230.91 L609.0,231.00 L610.0,231.13 L611.0,231.31 L612.0,231.52 L613.0,231.78 L614.0,232.08 L615.0,232.42 L616.0,232.79 L617.0,233.20 L618.0,233.64 L619.0,234.12 L620.0,234.62 L621.0,235.16 L622.0,235.72 L623.0,236.31 L624.0,236.92 L625.0,237.56 L626.0,238.22 L627.0,238.90 L628.0,239.59 L629.0,240.31 L630.0,241.04 L631.0,241.79 L632.0,242.55 L633.0,243.32 L634.0,244.11 L635.0,244.90 L636.0,245.70 L637.0,246.51 L638.0,247.33 L639.0,248.15 L640.0,248.97 L641.0,249.80 L642.0,250.63 L643.0,251.46 L644.0,252.30 L645.0,253.13 L646.0,253.96 L647.0,254.79 L648.0,255.61 L649.0,256.44 L650.0,257.26 L651.0,258.07 L652.0,258.88 L653.0,259.69 L654.0,260.49 L655.0,261.29 L656.0,262.07 L657.0,262.86 L658.0,263.63 L659.0,264.40 L660.0,265.17 L661.0,265.92 L662.0,266.68 L663.0,267.42 L664.0,268.16 L665.0,268.89 L666.0,269.61 L667.0,270.33 L668.0,271.05 L669.0,271.76 L670.0,272.46 L671.0,273.16 L672.0,273.85 L673.0,274.54 L674.0,275.23 L675.0,275.92 L676.0,276.60 L677.0,277.28 L678.0,277.96 L679.0,278.63 L680.0,279.31 L681.0,279.99 L682.0,280.67 L683.0,281.35 L684.0,282.03 L685.0,282.71 L686.0,283.40 L687.0,284.09 L688.0,284.78 L689.0,285.48 L690.0,286.18 L691.0,286.89 L692.0,287.61 L693.0,288.33 L694.0,289.06 L695.0,289.80 L696.0,290.55 L697.0,291.30 L698.0,292.07 L699.0,292.84 L700.0,293.62 L701.0,294.41 L702.0,295.22 L703.0,296.03 L704.0,296.85 L705.0,297.69 L706.0,298.53 L707.0,299.39 L708.0,300.26 L709.0,301.14 L710.0,302.03 L711.0,302.93 L712.0,303.84 L713.0,304.76 L714.0,305.70 L715.0,306.64 L716.0,307.59 L717.0,308.56 L718.0,309.53 L719.0,310.51 L720.0,311.51 L721.0,312.51 L722.0,313.51 L723.0,314.53 L724.0,315.55 L725.0,316.59 L726.0,317.62 L727.0,318.67 L728.0,319.72 L729.0,320.77 L730.0,321.83 L731.0,322.89 L732.0,323.95 L733.0,325.02 L734.0,326.09 L735.0,327.17 L736.0,328.24 L737.0,329.32 L738.0,330.39 L739.0,331.47 L740.0,332.54 L741.0,333.61 L742.0,334.69 L743.0,335.76 L744.0,336.83 L745.0,337.89 L746.0,338.95 L747.0,340.01 L748.0,341.07 L749.0,342.12 L750.0,343.17 L751.0,344.22 L752.0,345.26 L753.0,346.29 L754.0,347.33 L755.0,348.35 L756.0,349.38 L757.0,350.39 L758.0,351.41 L759.0,352.41 L760.0,353.42 L761.0,354.42 L762.0,355.41 L763.0,356.40 L764.0,357.38 L765.0,358.37 L766.0,359.34 L767.0,360.31 L768.0,361.28 L769.0,362.25 L770.0,363.21 L771.0,364.16 L772.0,365.12 L773.0,366.07 L774.0,367.01 L775.0,367.96 L776.0,368.90 L777.0,369.84 L778.0,370.78 L779.0,371.71 L780.0,372.64 L781.0,373.57 L782.0,374.49 L783.0,375.42 L784.0,376.34 L785.0,377.26 L786.0,378.18 L787.0,379.09 L788.0,380.01 L789.0,380.92 L790.0,381.82 L791.0,382.73 L792.0,383.63 L793.0,384.53 L794.0,385.43 L795.0,386.32 L796.0,387.21 L797.0,388.10 L798.0,388.98 L799.0,389.85 L800.0,390.73 L801.0,391.59 L802.0,392.46 L803.0,393.31 L804.0,394.16 L805.0,395.01 L806.0,395.84 L807.0,396.67 L808.0,397.50 L809.0,398.31 L810.0,399.12 L811.0,399.91 L812.0,400.70 L813.0,401.48 L814.0,402.25 L815.0,403.00 L816.0,403.75 L817.0,404.49 L818.0,405.21 L819.0,405.92 L820.0,406.62 L821.0,407.31 L822.0,407.99 L823.0,408.65 L824.0,409.30 L825.0,409.93 L826.0,410.55 L827.0,411.16 L828.0,411.75 L829.0,412.33 L830.0,412.90 L831.0,413.45 L832.0,413.98 L833.0,414.50 L834.0,415.01 L835.0,415.50 L836.0,415.98 L837.0,416.44 L838.0,416.89 L839.0,417.33 L840.0,417.75 L841.0,418.15 L842.0,418.55 L843.0,418.93 L844.0,419.29 L845.0,419.64 L846.0,419.98 L847.0,420.31 L848.0,420.63 L849.0,420.93 L850.0,421.23 L851.0,421.51 L852.0,421.78 L853.0,422.04 L854.0,422.30 L855.0,422.54 L856.0,422.78 L857.0,423.00 L858.0,423.22 L859.0,423.43 L860.0,423.64 L861.0,423.83 L862.0,424.03 L863.0,424.21 L864.0,424.40 L865.0,424.57 L866.0,424.75 L867.0,424.92 L868.0,425.08 L869.0,425.25 L870.0,425.41 L871.0,425.57 L872.0,425.73 L873.0,425.88 L874.0,426.04 L875.0,426.20 L876.0,426.35 L877.0,426.51 L878.0,426.67 L879.0,426.82 L880.0,426.98 L881.0,427.14 L882.0,427.31 L883.0,427.47 L884.0,427.64 L885.0,427.81 L886.0,427.98 L887.0,428.15 L888.0,428.33 L889.0,428.51 L890.0,428.69 L891.0,428.87 L892.0,429.06 L893.0,429.25 L894.0,429.45 L895.0,429.64 L896.0,429.84 L897.0,430.05 L898.0,430.25 L899.0,430.46 L900.0,430.67 L901.0,430.89 L902.0,431.10 L903.0,431.32 L904.0,431.54 L905.0,431.77 L906.0,431.99 L907.0,432.22 L908.0,432.45 L909.0,432.68 L910.0,432.91 L911.0,433.14 L912.0,433.38 L913.0,433.61 L914.0,433.84 L915.0,434.08 L916.0,434.31 L917.0,434.55 L918.0,434.78 L919.0,435.02 L920.0,435.25 L921.0,435.48 L922.0,435.71 L923.0,435.94 L924.0,436.17 L925.0,436.40 L926.0,436.62 L927.0,436.84 L928.0,437.06 L929.0,437.28 L930.0,437.50 L931.0,437.71 L932.0,437.92 L933.0,438.13 L934.0,438.33 L935.0,438.53 L936.0,438.73 L937.0,438.92 L938.0,439.12 L939.0,439.30 L940.0,439.49 L941.0,439.67 L942.0,439.84 L943.0,440.01 L944.0,440.18 L945.0,440.35 L946.0,440.51 L947.0,440.66 L948.0,440.81 L949.0,440.96 L950.0,441.11 L951.0,441.25 L952.0,441.38 L953.0,441.52 L954.0,441.64 L955.0,441.77 L956.0,441.89 L957.0,442.01 L958.0,442.12 L959.0,442.23 L960.0,442.33 L961.0,442.43 L962.0,442.53 L963.0,442.63 L964.0,442.72 L965.0,442.80 L966.0,442.89 L967.0,442.97 L968.0,443.05 L969.0,443.12 L970.0,443.19 L971.0,443.26 L972.0,443.33 L973.0,443.39 L974.0,443.45 L975.0,443.51 L976.0,443.56 L977.0,443.61 L978.0,443.66 L979.0,443.71 L980.0,443.76 L981.0,443.80 L982.0,443.84 L983.0,443.88 L984.0,443.92 L985.0,443.95 L986.0,443.98 L987.0,444.02 L988.0,444.05 L989.0,444.07 L990.0,444.10 L991.0,444.13 L992.0,444.15 L993.0,444.17 L994.0,444.19 L995.0,444.21 L996.0,444.23 L997.0,444.25 L998.0,444.27 L999.0,444.28 L1000.0,444.30 L1000.0,444.5 L305.0,444.5 Z" fill="#CCBB44" fill-opacity="0.3" stroke="none"/>
</g>
<g stroke="#4d4d4d" stroke-width="3.33" fill="none">
<line x1="403.2" y1="129.65" x2="923.2" y2="129.65"/>
<line x1="463.0" y1="129.65" x2="463.0" y2="144.0"/>
<line x1="554.7" y1="129.65" x2="554.7" y2="144.0"/>
<line x1="646.4" y1="129.65" x2="646.4" y2="144.0"/>
<line x1="738.1" y1="129.65" x2="738.1" y2="144.0"/>
<line x1="829.8" y1="129.65" x2="829.8" y2="144.0"/>
<line x1="921.5" y1="129.65" x2="921.5" y2="144.0"/>
</g>
<line x1="440.7" y1="30.8" x2="440.7" y2="63.3" stroke="#4477AA" stroke-width="8.33"/>
<line x1="440.7" y1="96.9" x2="440.7" y2="129.8" stroke="#4477AA" stroke-width="8.33"/>
<line x1="451.5" y1="0.9" x2="451.5" y2="30.8" stroke="#EE6677" stroke-width="8.33"/>
<line x1="451.5" y1="63.9" x2="451.5" y2="96.9" stroke="#EE6677" stroke-width="8.33"/>
<line x1="595.1" y1="1.4" x2="595.1" y2="30.9" stroke="#CCBB44" stroke-width="8.33"/>
<line x1="595.1" y1="68.0" x2="595.1" y2="97.0" stroke="#CCBB44" stroke-width="8.33"/>
<line x1="615.5" y1="35.0" x2="615.5" y2="63.9" stroke="#228833" stroke-width="8.33"/>
<line x1="615.5" y1="101.1" x2="615.5" y2="129.8" stroke="#228833" stroke-width="8.33"/>
<g clip-path="url(#ax)" fill="none" stroke-linejoin="round" stroke-linecap="butt">
<path d="M93.0,444.32 L94.0,444.31 L95.0,444.30 L96.0,444.29 L97.0,444.28 L98.0,444.27 L99.0,444.26 L100.0,444.25 L101.0,444.24 L102.0,444.23 L103.0,444.22 L104.0,444.20 L105.0,444.19 L106.0,444.18 L107.0,444.16 L108.0,444.15 L109.0,444.14 L110.0,444.12 L111.0,444.11 L112.0,444.09 L113.0,444.07 L114.0,444.06 L115.0,444.04 L116.0,444.02 L117.0,444.00 L118.0,443.98 L119.0,443.96 L120.0,443.94 L121.0,443.92 L122.0,443.89 L123.0,443.87 L124.0,443.85 L125.0,443.82 L126.0,443.80 L127.0,443.77 L128.0,443.74 L129.0,443.72 L130.0,443.69 L131.0,443.66 L132.0,443.63 L133.0,443.60 L134.0,443.56 L135.0,443.53 L136.0,443.50 L137.0,443.46 L138.0,443.43 L139.0,443.39 L140.0,443.35 L141.0,443.31 L142.0,443.27 L143.0,443.23 L144.0,443.19 L145.0,443.14 L146.0,443.10 L147.0,443.05 L148.0,443.00 L149.0,442.96 L150.0,442.91 L151.0,442.86 L152.0,442.80 L153.0,442.75 L154.0,442.69 L155.0,442.64 L156.0,442.58 L157.0,442.52 L158.0,442.46 L159.0,442.40 L160.0,442.33 L161.0,442.27 L162.0,442.20 L163.0,442.13 L164.0,442.06 L165.0,441.99 L166.0,441.92 L167.0,441.84 L168.0,441.76 L169.0,441.69 L170.0,441.60 L171.0,441.52 L172.0,441.44 L173.0,441.35 L174.0,441.26 L175.0,441.17 L176.0,441.08 L177.0,440.98 L178.0,440.89 L179.0,440.79 L180.0,440.69 L181.0,440.58 L182.0,440.48 L183.0,440.37 L184.0,440.26 L185.0,440.15 L186.0,440.03 L187.0,439.91 L188.0,439.79 L189.0,439.67 L190.0,439.54 L191.0,439.42 L192.0,439.29 L193.0,439.15 L194.0,439.01 L195.0,438.87 L196.0,438.73 L197.0,438.59 L198.0,438.44 L199.0,438.28 L200.0,438.13 L201.0,437.97 L202.0,437.81 L203.0,437.64 L204.0,437.47 L205.0,437.30 L206.0,437.12 L207.0,436.94 L208.0,436.76 L209.0,436.57 L210.0,436.38 L211.0,436.19 L212.0,435.99 L213.0,435.78 L214.0,435.58 L215.0,435.36 L216.0,435.15 L217.0,434.93 L218.0,434.70 L219.0,434.47 L220.0,434.24 L221.0,434.00 L222.0,433.75 L223.0,433.51 L224.0,433.25 L225.0,432.99 L226.0,432.73 L227.0,432.46 L228.0,432.19 L229.0,431.91 L230.0,431.62 L231.0,431.33 L232.0,431.04 L233.0,430.73 L234.0,430.43 L235.0,430.11 L236.0,429.79 L237.0,429.47 L238.0,429.14 L239.0,428.80 L240.0,428.46 L241.0,428.11 L242.0,427.75 L243.0,427.39 L244.0,427.02 L245.0,426.65 L246.0,426.26 L247.0,425.87 L248.0,425.48 L249.0,425.08 L250.0,424.67 L251.0,424.25 L252.0,423.83 L253.0,423.40 L254.0,422.96 L255.0,422.52 L256.0,422.07 L257.0,421.61 L258.0,421.14 L259.0,420.67 L260.0,420.19 L261.0,419.70 L262.0,419.21 L263.0,418.71 L264.0,418.20 L265.0,417.68 L266.0,417.15 L267.0,416.62 L268.0,416.08 L269.0,415.53 L270.0,414.98 L271.0,414.42 L272.0,413.85 L273.0,413.27 L274.0,412.69 L275.0,412.09 L276.0,411.49 L277.0,410.89 L278.0,410.27 L279.0,409.65 L280.0,409.02 L281.0,408.38 L282.0,407.74 L283.0,407.09 L284.0,406.43 L285.0,405.76 L286.0,405.09 L287.0,404.41 L288.0,403.72 L289.0,403.03 L290.0,402.33 L291.0,401.62 L292.0,400.90 L293.0,400.18 L294.0,399.45 L295.0,398.72 L296.0,397.97 L297.0,397.23 L298.0,396.47 L299.0,395.71 L300.0,394.94 L301.0,394.17 L302.0,393.39 L303.0,392.61 L304.0,391.82 L305.0,391.02 L306.0,390.22 L307.0,389.41 L308.0,388.60 L309.0,387.78 L310.0,386.96 L311.0,386.13 L312.0,385.29 L313.0,384.46 L314.0,383.61 L315.0,382.77 L316.0,381.91 L317.0,381.06 L318.0,380.20 L319.0,379.33 L320.0,378.46 L321.0,377.59 L322.0,376.72 L323.0,375.84 L324.0,374.96 L325.0,374.07 L326.0,373.18 L327.0,372.29 L328.0,371.39 L329.0,370.50 L330.0,369.60 L331.0,368.69 L332.0,367.79 L333.0,366.88 L334.0,365.98 L335.0,365.07 L336.0,364.15 L337.0,363.24 L338.0,362.32 L339.0,361.41 L340.0,360.49 L341.0,359.57 L342.0,358.65 L343.0,357.73 L344.0,356.81 L345.0,355.89 L346.0,354.97 L347.0,354.05 L348.0,353.13 L349.0,352.21 L350.0,351.29 L351.0,350.37 L352.0,349.45 L353.0,348.53 L354.0,347.62 L355.0,346.70 L356.0,345.78 L357.0,344.87 L358.0,343.96 L359.0,343.05 L360.0,342.14 L361.0,341.23 L362.0,340.33 L363.0,339.43 L364.0,338.53 L365.0,337.63 L366.0,336.73 L367.0,335.84 L368.0,334.95 L369.0,334.06 L370.0,333.18 L371.0,332.30 L372.0,331.42 L373.0,330.55 L374.0,329.68 L375.0,328.82 L376.0,327.96 L377.0,327.10 L378.0,326.25 L379.0,325.40 L380.0,324.55 L381.0,323.71 L382.0,322.88 L383.0,322.05 L384.0,321.22 L385.0,320.41 L386.0,319.59 L387.0,318.78 L388.0,317.98 L389.0,317.18 L390.0,316.39 L391.0,315.61 L392.0,314.83 L393.0,314.05 L394.0,313.29 L395.0,312.53 L396.0,311.77 L397.0,311.03 L398.0,310.29 L399.0,309.56 L400.0,308.83 L401.0,308.11 L402.0,307.40 L403.0,306.70 L404.0,306.01 L405.0,305.32 L406.0,304.64 L407.0,303.97 L408.0,303.31 L409.0,302.66 L410.0,302.02 L411.0,301.38 L412.0,300.76 L413.0,300.14 L414.0,299.53 L415.0,298.94 L416.0,298.35 L417.0,297.77 L418.0,297.20 L419.0,296.65 L420.0,296.10 L421.0,295.57 L422.0,295.04 L423.0,294.53 L424.0,294.03 L425.0,293.54 L426.0,293.06 L427.0,292.59 L428.0,292.14 L429.0,291.69 L430.0,291.26 L431.0,290.85 L432.0,290.44 L433.0,290.05 L434.0,289.67 L435.0,289.31 L436.0,288.96 L437.0,288.62 L438.0,288.30 L439.0,287.99 L440.0,287.70 L441.0,287.42 L442.0,287.16 L443.0,286.91 L444.0,286.68 L445.0,286.46 L446.0,286.26 L447.0,286.08 L448.0,285.91 L449.0,285.76 L450.0,285.62 L451.0,285.50 L452.0,285.40 L453.0,285.32 L454.0,285.25 L455.0,285.20 L456.0,285.17 L457.0,285.15 L458.0,285.16 L459.0,285.18 L460.0,285.22 L461.0,285.28 L462.0,285.35 L463.0,285.45 L464.0,285.56 L465.0,285.70 L466.0,285.85 L467.0,286.02 L468.0,286.21 L469.0,286.42 L470.0,286.65 L471.0,286.90 L472.0,287.16 L473.0,287.45 L474.0,287.75 L475.0,288.08 L476.0,288.42 L477.0,288.78 L478.0,289.16 L479.0,289.56 L480.0,289.98 L481.0,290.42 L482.0,290.87 L483.0,291.35 L484.0,291.84 L485.0,292.35 L486.0,292.87 L487.0,293.42 L488.0,293.98 L489.0,294.56 L490.0,295.16 L491.0,295.77 L492.0,296.40 L493.0,297.04 L494.0,297.70 L495.0,298.38 L496.0,299.07 L497.0,299.77 L498.0,300.49 L499.0,301.22 L500.0,301.97 L501.0,302.72 L502.0,303.49 L503.0,304.28 L504.0,305.07 L505.0,305.87 L506.0,306.69 L507.0,307.51 L508.0,308.35 L509.0,309.19 L510.0,310.04 L511.0,310.90 L512.0,311.77 L513.0,312.64 L514.0,313.52 L515.0,314.40 L516.0,315.29 L517.0,316.18 L518.0,317.07 L519.0,317.97 L520.0,318.87 L521.0,319.77 L522.0,320.68 L523.0,321.58 L524.0,322.48 L525.0,323.39 L526.0,324.29 L527.0,325.19 L528.0,326.08 L529.0,326.97 L530.0,327.86 L531.0,328.74 L532.0,329.62 L533.0,330.50 L534.0,331.36 L535.0,332.22 L536.0,333.07 L537.0,333.92 L538.0,334.75 L539.0,335.58 L540.0,336.39 L541.0,337.20 L542.0,337.99 L543.0,338.78 L544.0,339.55 L545.0,340.31 L546.0,341.06 L547.0,341.80 L548.0,342.52 L549.0,343.23 L550.0,343.92 L551.0,344.60 L552.0,345.27 L553.0,345.92 L554.0,346.56 L555.0,347.18 L556.0,347.78 L557.0,348.38 L558.0,348.95 L559.0,349.51 L560.0,350.05 L561.0,350.58 L562.0,351.09 L563.0,351.58 L564.0,352.06 L565.0,352.52 L566.0,352.97 L567.0,353.39 L568.0,353.81 L569.0,354.20 L570.0,354.58 L571.0,354.95 L572.0,355.30 L573.0,355.63 L574.0,355.95 L575.0,356.26 L576.0,356.55 L577.0,356.82 L578.0,357.08 L579.0,357.33 L580.0,357.56 L581.0,357.78 L582.0,357.99 L583.0,358.19 L584.0,358.37 L585.0,358.54 L586.0,358.70 L587.0,358.85 L588.0,358.99 L589.0,359.12 L590.0,359.24 L591.0,359.36 L592.0,359.46 L593.0,359.56 L594.0,359.65 L595.0,359.73 L596.0,359.80 L597.0,359.87 L598.0,359.94 L599.0,360.00 L600.0,360.06 L601.0,360.11 L602.0,360.16 L603.0,360.21 L604.0,360.26 L605.0,360.30 L606.0,360.34 L607.0,360.39 L608.0,360.43 L609.0,360.48 L610.0,360.53 L611.0,360.58 L612.0,360.63 L613.0,360.68 L614.0,360.74 L615.0,360.80 L616.0,360.87 L617.0,360.94 L618.0,361.01 L619.0,361.10 L620.0,361.19 L621.0,361.28 L622.0,361.38 L623.0,361.49 L624.0,361.61 L625.0,361.73 L626.0,361.87 L627.0,362.01 L628.0,362.16 L629.0,362.32 L630.0,362.49 L631.0,362.67 L632.0,362.86 L633.0,363.05 L634.0,363.26 L635.0,363.48 L636.0,363.71 L637.0,363.95 L638.0,364.21 L639.0,364.47 L640.0,364.74 L641.0,365.03 L642.0,365.32 L643.0,365.63 L644.0,365.95 L645.0,366.28 L646.0,366.62 L647.0,366.97 L648.0,367.33 L649.0,367.70 L650.0,368.08 L651.0,368.48 L652.0,368.88 L653.0,369.30 L654.0,369.72 L655.0,370.15 L656.0,370.60 L657.0,371.05 L658.0,371.51 L659.0,371.98 L660.0,372.46 L661.0,372.95 L662.0,373.44 L663.0,373.94 L664.0,374.46 L665.0,374.97 L666.0,375.50 L667.0,376.03 L668.0,376.57 L669.0,377.11 L670.0,377.66 L671.0,378.21 L672.0,378.77 L673.0,379.34 L674.0,379.90 L675.0,380.48 L676.0,381.05 L677.0,381.63 L678.0,382.21 L679.0,382.79 L680.0,383.38 L681.0,383.96 L682.0,384.55 L683.0,385.14 L684.0,385.73 L685.0,386.32 L686.0,386.91 L687.0,387.50 L688.0,388.09 L689.0,388.68 L690.0,389.27 L691.0,389.85 L692.0,390.44 L693.0,391.02 L694.0,391.60 L695.0,392.17 L696.0,392.75 L697.0,393.32 L698.0,393.88 L699.0,394.44 L700.0,395.00 L701.0,395.56 L702.0,396.11 L703.0,396.65 L704.0,397.19 L705.0,397.73 L706.0,398.26 L707.0,398.79 L708.0,399.31 L709.0,399.82 L710.0,400.33 L711.0,400.83 L712.0,401.33 L713.0,401.82 L714.0,402.31 L715.0,402.79 L716.0,403.26 L717.0,403.73 L718.0,404.19 L719.0,404.65 L720.0,405.09 L721.0,405.54 L722.0,405.97 L723.0,406.40 L724.0,406.83 L725.0,407.25 L726.0,407.66 L727.0,408.06 L728.0,408.46 L729.0,408.86 L730.0,409.25 L731.0,409.63 L732.0,410.01 L733.0,410.38 L734.0,410.74 L735.0,411.10 L736.0,411.46 L737.0,411.81 L738.0,412.15 L739.0,412.49 L740.0,412.83 L741.0,413.16 L742.0,413.48 L743.0,413.80 L744.0,414.12 L745.0,414.43 L746.0,414.74 L747.0,415.04 L748.0,415.34 L749.0,415.64 L750.0,415.93 L751.0,416.22 L752.0,416.51 L753.0,416.80 L754.0,417.08 L755.0,417.35 L756.0,417.63 L757.0,417.90 L758.0,418.17 L759.0,418.44 L760.0,418.71 L761.0,418.97 L762.0,419.23 L763.0,419.49 L764.0,419.75 L765.0,420.01 L766.0,420.26 L767.0,420.52 L768.0,420.77 L769.0,421.02 L770.0,421.27 L771.0,421.52 L772.0,421.77 L773.0,422.01 L774.0,422.26 L775.0,422.51 L776.0,422.75 L777.0,423.00 L778.0,423.24 L779.0,423.48 L780.0,423.73 L781.0,423.97 L782.0,424.21 L783.0,424.45 L784.0,424.69 L785.0,424.94 L786.0,425.18 L787.0,425.42 L788.0,425.66 L789.0,425.90 L790.0,426.14 L791.0,426.38 L792.0,426.62 L793.0,426.86 L794.0,427.09 L795.0,427.33 L796.0,427.57 L797.0,427.81 L798.0,428.05 L799.0,428.28 L800.0,428.52 L801.0,428.76 L802.0,428.99 L803.0,429.23 L804.0,429.46 L805.0,429.70 L806.0,429.93 L807.0,430.16 L808.0,430.39 L809.0,430.62 L810.0,430.85 L811.0,431.08 L812.0,431.31 L813.0,431.54 L814.0,431.76 L815.0,431.99 L816.0,432.21 L817.0,432.44 L818.0,432.66 L819.0,432.88 L820.0,433.10 L821.0,433.31 L822.0,433.53 L823.0,433.74 L824.0,433.95 L825.0,434.17 L826.0,434.37 L827.0,434.58 L828.0,434.79 L829.0,434.99 L830.0,435.19 L831.0,435.39 L832.0,435.59 L833.0,435.78 L834.0,435.98 L835.0,436.17 L836.0,436.36 L837.0,436.54 L838.0,436.73 L839.0,436.91 L840.0,437.09 L841.0,437.27 L842.0,437.44 L843.0,437.62 L844.0,437.79 L845.0,437.95 L846.0,438.12 L847.0,438.28 L848.0,438.44 L849.0,438.60 L850.0,438.75 L851.0,438.91 L852.0,439.06 L853.0,439.20 L854.0,439.35 L855.0,439.49 L856.0,439.63 L857.0,439.77 L858.0,439.90 L859.0,440.03 L860.0,440.16 L861.0,440.29 L862.0,440.41 L863.0,440.53 L864.0,440.65 L865.0,440.77 L866.0,440.88 L867.0,440.99 L868.0,441.10 L869.0,441.21 L870.0,441.31 L871.0,441.42 L872.0,441.51 L873.0,441.61 L874.0,441.71 L875.0,441.80 L876.0,441.89 L877.0,441.97 L878.0,442.06 L879.0,442.14 L880.0,442.22 L881.0,442.30 L882.0,442.38 L883.0,442.45 L884.0,442.53 L885.0,442.60 L886.0,442.66 L887.0,442.73 L888.0,442.80 L889.0,442.86 L890.0,442.92 L891.0,442.98 L892.0,443.04 L893.0,443.09 L894.0,443.14 L895.0,443.20 L896.0,443.25 L897.0,443.30 L898.0,443.34 L899.0,443.39 L900.0,443.43 L901.0,443.48 L902.0,443.52 L903.0,443.56 L904.0,443.60 L905.0,443.63 L906.0,443.67 L907.0,443.70 L908.0,443.74 L909.0,443.77 L910.0,443.80 L911.0,443.83 L912.0,443.86 L913.0,443.89 L914.0,443.91 L915.0,443.94 L916.0,443.96 L917.0,443.99 L918.0,444.01 L919.0,444.03 L920.0,444.05 L921.0,444.07 L922.0,444.09 L923.0,444.11 L924.0,444.13 L925.0,444.15 L926.0,444.16 L927.0,444.18 L928.0,444.19 L929.0,444.21 L930.0,444.22 L931.0,444.24 L932.0,444.25 L933.0,444.26 L934.0,444.27 L935.0,444.28 L936.0,444.30 L937.0,444.31 L938.0,444.32 L939.0,444.32 L940.0,444.33" stroke="#4477AA" stroke-width="8.33"/>
<path d="M245.0,444.26 L246.0,444.24 L247.0,444.21 L248.0,444.18 L249.0,444.15 L250.0,444.12 L251.0,444.08 L252.0,444.04 L253.0,444.00 L254.0,443.95 L255.0,443.90 L256.0,443.85 L257.0,443.79 L258.0,443.73 L259.0,443.66 L260.0,443.59 L261.0,443.51 L262.0,443.43 L263.0,443.34 L264.0,443.24 L265.0,443.14 L266.0,443.03 L267.0,442.91 L268.0,442.79 L269.0,442.66 L270.0,442.52 L271.0,442.37 L272.0,442.21 L273.0,442.04 L274.0,441.86 L275.0,441.67 L276.0,441.47 L277.0,441.26 L278.0,441.04 L279.0,440.80 L280.0,440.55 L281.0,440.29 L282.0,440.01 L283.0,439.73 L284.0,439.42 L285.0,439.11 L286.0,438.77 L287.0,438.42 L288.0,438.06 L289.0,437.68 L290.0,437.28 L291.0,436.87 L292.0,436.44 L293.0,435.99 L294.0,435.52 L295.0,435.04 L296.0,434.54 L297.0,434.02 L298.0,433.48 L299.0,432.92 L300.0,432.34 L301.0,431.74 L302.0,431.13 L303.0,430.50 L304.0,429.84 L305.0,429.17 L306.0,428.48 L307.0,427.77 L308.0,427.05 L309.0,426.30 L310.0,425.54 L311.0,424.76 L312.0,423.96 L313.0,423.14 L314.0,422.31 L315.0,421.46 L316.0,420.60 L317.0,419.72 L318.0,418.83 L319.0,417.92 L320.0,416.99 L321.0,416.06 L322.0,415.11 L323.0,414.15 L324.0,413.18 L325.0,412.20 L326.0,411.21 L327.0,410.21 L328.0,409.20 L329.0,408.18 L330.0,407.15 L331.0,406.12 L332.0,405.08 L333.0,404.04 L334.0,402.99 L335.0,401.94 L336.0,400.88 L337.0,399.82 L338.0,398.75 L339.0,397.69 L340.0,396.62 L341.0,395.54 L342.0,394.47 L343.0,393.39 L344.0,392.31 L345.0,391.23 L346.0,390.14 L347.0,389.05 L348.0,387.96 L349.0,386.87 L350.0,385.77 L351.0,384.67 L352.0,383.56 L353.0,382.44 L354.0,381.32 L355.0,380.19 L356.0,379.05 L357.0,377.90 L358.0,376.73 L359.0,375.56 L360.0,374.37 L361.0,373.17 L362.0,371.94 L363.0,370.70 L364.0,369.44 L365.0,368.16 L366.0,366.86 L367.0,365.53 L368.0,364.17 L369.0,362.78 L370.0,361.37 L371.0,359.93 L372.0,358.45 L373.0,356.94 L374.0,355.39 L375.0,353.81 L376.0,352.19 L377.0,350.54 L378.0,348.84 L379.0,347.10 L380.0,345.33 L381.0,343.51 L382.0,341.66 L383.0,339.76 L384.0,337.82 L385.0,335.85 L386.0,333.83 L387.0,331.77 L388.0,329.68 L389.0,327.55 L390.0,325.38 L391.0,323.18 L392.0,320.95 L393.0,318.69 L394.0,316.40 L395.0,314.08 L396.0,311.74 L397.0,309.38 L398.0,307.00 L399.0,304.60 L400.0,302.19 L401.0,299.78 L402.0,297.35 L403.0,294.93 L404.0,292.50 L405.0,290.08 L406.0,287.66 L407.0,285.26 L408.0,282.86 L409.0,280.49 L410.0,278.13 L411.0,275.79 L412.0,273.48 L413.0,271.20 L414.0,268.95 L415.0,266.73 L416.0,264.55 L417.0,262.41 L418.0,260.30 L419.0,258.24 L420.0,256.22 L421.0,254.25 L422.0,252.32 L423.0,250.43 L424.0,248.60 L425.0,246.81 L426.0,245.07 L427.0,243.38 L428.0,241.74 L429.0,240.15 L430.0,238.60 L431.0,237.11 L432.0,235.65 L433.0,234.25 L434.0,232.89 L435.0,231.57 L436.0,230.29 L437.0,229.06 L438.0,227.86 L439.0,226.70 L440.0,225.58 L441.0,224.49 L442.0,223.43 L443.0,222.41 L444.0,221.41 L445.0,220.44 L446.0,219.50 L447.0,218.58 L448.0,217.69 L449.0,216.82 L450.0,215.97 L451.0,215.14 L452.0,214.32 L453.0,213.52 L454.0,212.74 L455.0,211.97 L456.0,211.22 L457.0,210.48 L458.0,209.75 L459.0,209.03 L460.0,208.32 L461.0,207.62 L462.0,206.93 L463.0,206.24 L464.0,205.57 L465.0,204.90 L466.0,204.23 L467.0,203.58 L468.0,202.92 L469.0,202.27 L470.0,201.63 L471.0,200.99 L472.0,200.35 L473.0,199.71 L474.0,199.07 L475.0,198.43 L476.0,197.79 L477.0,197.15 L478.0,196.50 L479.0,195.85 L480.0,195.20 L481.0,194.54 L482.0,193.87 L483.0,193.20 L484.0,192.52 L485.0,191.83 L486.0,191.13 L487.0,190.43 L488.0,189.71 L489.0,188.98 L490.0,188.24 L491.0,187.50 L492.0,186.74 L493.0,185.97 L494.0,185.20 L495.0,184.42 L496.0,183.63 L497.0,182.83 L498.0,182.04 L499.0,181.24 L500.0,180.44 L501.0,179.65 L502.0,178.86 L503.0,178.09 L504.0,177.33 L505.0,176.58 L506.0,175.86 L507.0,175.17 L508.0,174.50 L509.0,173.87 L510.0,173.28 L511.0,172.74 L512.0,172.25 L513.0,171.81 L514.0,171.44 L515.0,171.14 L516.0,170.91 L517.0,170.76 L518.0,170.69 L519.0,170.72 L520.0,170.85 L521.0,171.07 L522.0,171.41 L523.0,171.85 L524.0,172.42 L525.0,173.10 L526.0,173.92 L527.0,174.86 L528.0,175.94 L529.0,177.15 L530.0,178.50 L531.0,180.00 L532.0,181.64 L533.0,183.42 L534.0,185.35 L535.0,187.42 L536.0,189.64 L537.0,192.00 L538.0,194.50 L539.0,197.15 L540.0,199.93 L541.0,202.85 L542.0,205.90 L543.0,209.07 L544.0,212.37 L545.0,215.79 L546.0,219.31 L547.0,222.95 L548.0,226.68 L549.0,230.50 L550.0,234.41 L551.0,238.40 L552.0,242.46 L553.0,246.59 L554.0,250.76 L555.0,254.99 L556.0,259.26 L557.0,263.55 L558.0,267.87 L559.0,272.20 L560.0,276.54 L561.0,280.88 L562.0,285.21 L563.0,289.52 L564.0,293.81 L565.0,298.06 L566.0,302.28 L567.0,306.45 L568.0,310.57 L569.0,314.63 L570.0,318.62 L571.0,322.55 L572.0,326.40 L573.0,330.18 L574.0,333.87 L575.0,337.47 L576.0,340.99 L577.0,344.41 L578.0,347.74 L579.0,350.97 L580.0,354.11 L581.0,357.14 L582.0,360.07 L583.0,362.90 L584.0,365.64 L585.0,368.27 L586.0,370.80 L587.0,373.23 L588.0,375.57 L589.0,377.80 L590.0,379.95 L591.0,382.00 L592.0,383.97 L593.0,385.84 L594.0,387.64 L595.0,389.35 L596.0,390.98 L597.0,392.54 L598.0,394.02 L599.0,395.44 L600.0,396.79 L601.0,398.08 L602.0,399.32 L603.0,400.49 L604.0,401.62 L605.0,402.69 L606.0,403.72 L607.0,404.71 L608.0,405.66 L609.0,406.57 L610.0,407.46 L611.0,408.31 L612.0,409.13 L613.0,409.93 L614.0,410.70 L615.0,411.45 L616.0,412.19 L617.0,412.91 L618.0,413.61 L619.0,414.31 L620.0,414.99 L621.0,415.66 L622.0,416.32 L623.0,416.97 L624.0,417.62 L625.0,418.26 L626.0,418.89 L627.0,419.53 L628.0,420.15 L629.0,420.78 L630.0,421.39 L631.0,422.01 L632.0,422.62 L633.0,423.23 L634.0,423.84 L635.0,424.44 L636.0,425.03 L637.0,425.63 L638.0,426.22 L639.0,426.80 L640.0,427.38 L641.0,427.95 L642.0,428.51 L643.0,429.07 L644.0,429.63 L645.0,430.17 L646.0,430.71 L647.0,431.24 L648.0,431.75 L649.0,432.26 L650.0,432.76 L651.0,433.25 L652.0,433.73 L653.0,434.20 L654.0,434.66 L655.0,435.10 L656.0,435.54 L657.0,435.96 L658.0,436.37 L659.0,436.77 L660.0,437.15 L661.0,437.53 L662.0,437.89 L663.0,438.23 L664.0,438.57 L665.0,438.89 L666.0,439.20 L667.0,439.50 L668.0,439.79 L669.0,440.06 L670.0,440.32 L671.0,440.57 L672.0,440.81 L673.0,441.04 L674.0,441.26 L675.0,441.47 L676.0,441.66 L677.0,441.85 L678.0,442.03 L679.0,442.19 L680.0,442.35 L681.0,442.50 L682.0,442.64 L683.0,442.77 L684.0,442.90 L685.0,443.02 L686.0,443.13 L687.0,443.23 L688.0,443.33 L689.0,443.42 L690.0,443.50 L691.0,443.58 L692.0,443.65 L693.0,443.72 L694.0,443.78 L695.0,443.84 L696.0,443.90 L697.0,443.95 L698.0,444.00 L699.0,444.04 L700.0,444.08 L701.0,444.12 L702.0,444.15 L703.0,444.18 L704.0,444.21 L705.0,444.24 L706.0,444.26 L707.0,444.28 L708.0,444.30 L709.0,444.32 L710.0,444.34 L711.0,444.36 L712.0,444.37 L713.0,444.38 L714.0,444.39 L715.0,444.41 L716.0,444.41 L717.0,444.42 L718.0,444.43 L719.0,444.44" stroke="#EE6677" stroke-width="8.33"/>
<path d="M420.0,443.87 L421.0,443.83 L422.0,443.79 L423.0,443.76 L424.0,443.72 L425.0,443.67 L426.0,443.63 L427.0,443.58 L428.0,443.54 L429.0,443.49 L430.0,443.44 L431.0,443.38 L432.0,443.33 L433.0,443.27 L434.0,443.21 L435.0,443.14 L436.0,443.08 L437.0,443.01 L438.0,442.94 L439.0,442.86 L440.0,442.78 L441.0,442.70 L442.0,442.61 L443.0,442.52 L444.0,442.43 L445.0,442.33 L446.0,442.23 L447.0,442.12 L448.0,442.00 L449.0,441.88 L450.0,441.76 L451.0,441.63 L452.0,441.49 L453.0,441.34 L454.0,441.19 L455.0,441.03 L456.0,440.86 L457.0,440.68 L458.0,440.49 L459.0,440.30 L460.0,440.09 L461.0,439.87 L462.0,439.64 L463.0,439.39 L464.0,439.14 L465.0,438.87 L466.0,438.58 L467.0,438.28 L468.0,437.97 L469.0,437.64 L470.0,437.29 L471.0,436.92 L472.0,436.54 L473.0,436.13 L474.0,435.71 L475.0,435.26 L476.0,434.79 L477.0,434.30 L478.0,433.79 L479.0,433.25 L480.0,432.69 L481.0,432.10 L482.0,431.49 L483.0,430.85 L484.0,430.19 L485.0,429.49 L486.0,428.77 L487.0,428.02 L488.0,427.24 L489.0,426.43 L490.0,425.59 L491.0,424.72 L492.0,423.82 L493.0,422.89 L494.0,421.93 L495.0,420.94 L496.0,419.92 L497.0,418.86 L498.0,417.78 L499.0,416.67 L500.0,415.53 L501.0,414.36 L502.0,413.16 L503.0,411.93 L504.0,410.67 L505.0,409.39 L506.0,408.08 L507.0,406.75 L508.0,405.39 L509.0,404.01 L510.0,402.61 L511.0,401.18 L512.0,399.74 L513.0,398.27 L514.0,396.79 L515.0,395.29 L516.0,393.77 L517.0,392.24 L518.0,390.70 L519.0,389.14 L520.0,387.57 L521.0,385.99 L522.0,384.40 L523.0,382.80 L524.0,381.20 L525.0,379.58 L526.0,377.97 L527.0,376.34 L528.0,374.72 L529.0,373.09 L530.0,371.45 L531.0,369.81 L532.0,368.17 L533.0,366.53 L534.0,364.88 L535.0,363.24 L536.0,361.58 L537.0,359.93 L538.0,358.27 L539.0,356.61 L540.0,354.94 L541.0,353.27 L542.0,351.59 L543.0,349.90 L544.0,348.20 L545.0,346.50 L546.0,344.78 L547.0,343.05 L548.0,341.30 L549.0,339.54 L550.0,337.76 L551.0,335.97 L552.0,334.15 L553.0,332.31 L554.0,330.45 L555.0,328.56 L556.0,326.64 L557.0,324.70 L558.0,322.72 L559.0,320.72 L560.0,318.68 L561.0,316.61 L562.0,314.50 L563.0,312.36 L564.0,310.18 L565.0,307.96 L566.0,305.71 L567.0,303.42 L568.0,301.09 L569.0,298.72 L570.0,296.31 L571.0,293.86 L572.0,291.38 L573.0,288.87 L574.0,286.31 L575.0,283.73 L576.0,281.11 L577.0,278.46 L578.0,275.78 L579.0,273.08 L580.0,270.35 L581.0,267.60 L582.0,264.83 L583.0,262.05 L584.0,259.25 L585.0,256.45 L586.0,253.63 L587.0,250.82 L588.0,248.00 L589.0,245.19 L590.0,242.38 L591.0,239.59 L592.0,236.81 L593.0,234.05 L594.0,231.32 L595.0,228.61 L596.0,225.93 L597.0,223.29 L598.0,220.68 L599.0,218.11 L600.0,215.59 L601.0,213.12 L602.0,210.70 L603.0,208.33 L604.0,206.02 L605.0,203.77 L606.0,201.58 L607.0,199.46 L608.0,197.40 L609.0,195.42 L610.0,193.51 L611.0,191.67 L612.0,189.90 L613.0,188.21 L614.0,186.60 L615.0,185.07 L616.0,183.61 L617.0,182.24 L618.0,180.94 L619.0,179.72 L620.0,178.59 L621.0,177.53 L622.0,176.56 L623.0,175.66 L624.0,174.84 L625.0,174.10 L626.0,173.44 L627.0,172.85 L628.0,172.33 L629.0,171.89 L630.0,171.53 L631.0,171.23 L632.0,171.00 L633.0,170.84 L634.0,170.75 L635.0,170.72 L636.0,170.75 L637.0,170.85 L638.0,171.00 L639.0,171.22 L640.0,171.49 L641.0,171.81 L642.0,172.19 L643.0,172.63 L644.0,173.11 L645.0,173.64 L646.0,174.22 L647.0,174.84 L648.0,175.51 L649.0,176.23 L650.0,176.98 L651.0,177.78 L652.0,178.62 L653.0,179.49 L654.0,180.41 L655.0,181.36 L656.0,182.34 L657.0,183.37 L658.0,184.42 L659.0,185.51 L660.0,186.63 L661.0,187.79 L662.0,188.98 L663.0,190.20 L664.0,191.44 L665.0,192.72 L666.0,194.03 L667.0,195.37 L668.0,196.74 L669.0,198.14 L670.0,199.56 L671.0,201.02 L672.0,202.50 L673.0,204.01 L674.0,205.54 L675.0,207.11 L676.0,208.70 L677.0,210.31 L678.0,211.96 L679.0,213.63 L680.0,215.33 L681.0,217.05 L682.0,218.79 L683.0,220.56 L684.0,222.36 L685.0,224.18 L686.0,226.02 L687.0,227.89 L688.0,229.78 L689.0,231.69 L690.0,233.62 L691.0,235.57 L692.0,237.53 L693.0,239.52 L694.0,241.53 L695.0,243.55 L696.0,245.58 L697.0,247.63 L698.0,249.70 L699.0,251.77 L700.0,253.86 L701.0,255.95 L702.0,258.06 L703.0,260.16 L704.0,262.28 L705.0,264.39 L706.0,266.51 L707.0,268.63 L708.0,270.75 L709.0,272.87 L710.0,274.98 L711.0,277.09 L712.0,279.18 L713.0,281.28 L714.0,283.36 L715.0,285.43 L716.0,287.48 L717.0,289.52 L718.0,291.55 L719.0,293.56 L720.0,295.56 L721.0,297.53 L722.0,299.49 L723.0,301.42 L724.0,303.34 L725.0,305.23 L726.0,307.10 L727.0,308.95 L728.0,310.78 L729.0,312.58 L730.0,314.36 L731.0,316.12 L732.0,317.85 L733.0,319.56 L734.0,321.25 L735.0,322.92 L736.0,324.56 L737.0,326.18 L738.0,327.79 L739.0,329.37 L740.0,330.93 L741.0,332.47 L742.0,334.00 L743.0,335.51 L744.0,337.00 L745.0,338.48 L746.0,339.95 L747.0,341.40 L748.0,342.84 L749.0,344.27 L750.0,345.69 L751.0,347.10 L752.0,348.50 L753.0,349.89 L754.0,351.28 L755.0,352.66 L756.0,354.04 L757.0,355.41 L758.0,356.77 L759.0,358.14 L760.0,359.50 L761.0,360.86 L762.0,362.21 L763.0,363.56 L764.0,364.91 L765.0,366.26 L766.0,367.60 L767.0,368.94 L768.0,370.28 L769.0,371.62 L770.0,372.94 L771.0,374.27 L772.0,375.59 L773.0,376.90 L774.0,378.21 L775.0,379.51 L776.0,380.80 L777.0,382.08 L778.0,383.35 L779.0,384.61 L780.0,385.86 L781.0,387.10 L782.0,388.32 L783.0,389.53 L784.0,390.72 L785.0,391.89 L786.0,393.05 L787.0,394.19 L788.0,395.31 L789.0,396.41 L790.0,397.49 L791.0,398.55 L792.0,399.58 L793.0,400.59 L794.0,401.58 L795.0,402.55 L796.0,403.49 L797.0,404.41 L798.0,405.31 L799.0,406.18 L800.0,407.02 L801.0,407.84 L802.0,408.64 L803.0,409.41 L804.0,410.16 L805.0,410.89 L806.0,411.59 L807.0,412.27 L808.0,412.92 L809.0,413.56 L810.0,414.17 L811.0,414.77 L812.0,415.34 L813.0,415.89 L814.0,416.43 L815.0,416.95 L816.0,417.45 L817.0,417.94 L818.0,418.41 L819.0,418.87 L820.0,419.32 L821.0,419.75 L822.0,420.18 L823.0,420.59 L824.0,420.99 L825.0,421.39 L826.0,421.77 L827.0,422.15 L828.0,422.53 L829.0,422.90 L830.0,423.26 L831.0,423.62 L832.0,423.98 L833.0,424.33 L834.0,424.68 L835.0,425.03 L836.0,425.38 L837.0,425.73 L838.0,426.07 L839.0,426.42 L840.0,426.77 L841.0,427.11 L842.0,427.46 L843.0,427.81 L844.0,428.15 L845.0,428.50 L846.0,428.85 L847.0,429.20 L848.0,429.55 L849.0,429.90 L850.0,430.25 L851.0,430.60 L852.0,430.96 L853.0,431.31 L854.0,431.66 L855.0,432.00 L856.0,432.35 L857.0,432.70 L858.0,433.04 L859.0,433.39 L860.0,433.73 L861.0,434.07 L862.0,434.40 L863.0,434.73 L864.0,435.06 L865.0,435.39 L866.0,435.71 L867.0,436.02 L868.0,436.33 L869.0,436.64 L870.0,436.94 L871.0,437.24 L872.0,437.53 L873.0,437.81 L874.0,438.09 L875.0,438.36 L876.0,438.62 L877.0,438.88 L878.0,439.13 L879.0,439.38 L880.0,439.62 L881.0,439.85 L882.0,440.07 L883.0,440.29 L884.0,440.50 L885.0,440.70 L886.0,440.89 L887.0,441.08 L888.0,441.26 L889.0,441.44 L890.0,441.61 L891.0,441.77 L892.0,441.92 L893.0,442.07 L894.0,442.21 L895.0,442.35 L896.0,442.48 L897.0,442.60 L898.0,442.72 L899.0,442.83 L900.0,442.93 L901.0,443.03 L902.0,443.13 L903.0,443.22 L904.0,443.30 L905.0,443.38 L906.0,443.46 L907.0,443.53 L908.0,443.60 L909.0,443.66 L910.0,443.72 L911.0,443.78 L912.0,443.83 L913.0,443.88 L914.0,443.93 L915.0,443.97 L916.0,444.01 L917.0,444.05 L918.0,444.09 L919.0,444.12 L920.0,444.15 L921.0,444.18 L922.0,444.20 L923.0,444.23 L924.0,444.25 L925.0,444.27 L926.0,444.29 L927.0,444.31 L928.0,444.33 L929.0,444.34 L930.0,444.36" stroke="#228833" stroke-width="8.33"/>
<path d="M305.0,444.24 L306.0,444.23 L307.0,444.21 L308.0,444.19 L309.0,444.17 L310.0,444.16 L311.0,444.14 L312.0,444.11 L313.0,444.09 L314.0,444.07 L315.0,444.04 L316.0,444.02 L317.0,443.99 L318.0,443.97 L319.0,443.94 L320.0,443.91 L321.0,443.88 L322.0,443.84 L323.0,443.81 L324.0,443.77 L325.0,443.74 L326.0,443.70 L327.0,443.66 L328.0,443.62 L329.0,443.58 L330.0,443.54 L331.0,443.49 L332.0,443.44 L333.0,443.40 L334.0,443.35 L335.0,443.30 L336.0,443.24 L337.0,443.19 L338.0,443.14 L339.0,443.08 L340.0,443.02 L341.0,442.96 L342.0,442.90 L343.0,442.83 L344.0,442.77 L345.0,442.70 L346.0,442.64 L347.0,442.57 L348.0,442.50 L349.0,442.42 L350.0,442.35 L351.0,442.27 L352.0,442.20 L353.0,442.12 L354.0,442.04 L355.0,441.96 L356.0,441.88 L357.0,441.79 L358.0,441.71 L359.0,441.62 L360.0,441.54 L361.0,441.45 L362.0,441.36 L363.0,441.27 L364.0,441.18 L365.0,441.09 L366.0,440.99 L367.0,440.90 L368.0,440.80 L369.0,440.71 L370.0,440.61 L371.0,440.51 L372.0,440.42 L373.0,440.32 L374.0,440.22 L375.0,440.12 L376.0,440.02 L377.0,439.92 L378.0,439.81 L379.0,439.71 L380.0,439.61 L381.0,439.50 L382.0,439.40 L383.0,439.29 L384.0,439.19 L385.0,439.08 L386.0,438.97 L387.0,438.86 L388.0,438.76 L389.0,438.64 L390.0,438.53 L391.0,438.42 L392.0,438.31 L393.0,438.19 L394.0,438.08 L395.0,437.96 L396.0,437.84 L397.0,437.72 L398.0,437.59 L399.0,437.47 L400.0,437.34 L401.0,437.21 L402.0,437.08 L403.0,436.94 L404.0,436.80 L405.0,436.66 L406.0,436.51 L407.0,436.36 L408.0,436.21 L409.0,436.05 L410.0,435.89 L411.0,435.72 L412.0,435.55 L413.0,435.37 L414.0,435.18 L415.0,434.99 L416.0,434.80 L417.0,434.59 L418.0,434.38 L419.0,434.17 L420.0,433.94 L421.0,433.71 L422.0,433.47 L423.0,433.22 L424.0,432.96 L425.0,432.69 L426.0,432.41 L427.0,432.12 L428.0,431.83 L429.0,431.52 L430.0,431.20 L431.0,430.87 L432.0,430.53 L433.0,430.18 L434.0,429.81 L435.0,429.43 L436.0,429.05 L437.0,428.64 L438.0,428.23 L439.0,427.80 L440.0,427.36 L441.0,426.91 L442.0,426.44 L443.0,425.97 L444.0,425.47 L445.0,424.97 L446.0,424.45 L447.0,423.91 L448.0,423.36 L449.0,422.80 L450.0,422.23 L451.0,421.64 L452.0,421.04 L453.0,420.42 L454.0,419.79 L455.0,419.15 L456.0,418.50 L457.0,417.83 L458.0,417.15 L459.0,416.45 L460.0,415.75 L461.0,415.03 L462.0,414.30 L463.0,413.56 L464.0,412.80 L465.0,412.04 L466.0,411.27 L467.0,410.48 L468.0,409.68 L469.0,408.88 L470.0,408.06 L471.0,407.24 L472.0,406.40 L473.0,405.56 L474.0,404.71 L475.0,403.85 L476.0,402.98 L477.0,402.10 L478.0,401.22 L479.0,400.32 L480.0,399.42 L481.0,398.52 L482.0,397.60 L483.0,396.68 L484.0,395.75 L485.0,394.82 L486.0,393.88 L487.0,392.93 L488.0,391.97 L489.0,391.01 L490.0,390.04 L491.0,389.07 L492.0,388.08 L493.0,387.09 L494.0,386.09 L495.0,385.09 L496.0,384.07 L497.0,383.05 L498.0,382.01 L499.0,380.97 L500.0,379.92 L501.0,378.86 L502.0,377.79 L503.0,376.70 L504.0,375.61 L505.0,374.50 L506.0,373.38 L507.0,372.25 L508.0,371.10 L509.0,369.94 L510.0,368.76 L511.0,367.56 L512.0,366.35 L513.0,365.12 L514.0,363.88 L515.0,362.61 L516.0,361.33 L517.0,360.03 L518.0,358.70 L519.0,357.36 L520.0,355.99 L521.0,354.61 L522.0,353.20 L523.0,351.76 L524.0,350.31 L525.0,348.83 L526.0,347.32 L527.0,345.79 L528.0,344.24 L529.0,342.67 L530.0,341.06 L531.0,339.44 L532.0,337.79 L533.0,336.11 L534.0,334.41 L535.0,332.69 L536.0,330.95 L537.0,329.18 L538.0,327.39 L539.0,325.57 L540.0,323.74 L541.0,321.89 L542.0,320.01 L543.0,318.12 L544.0,316.21 L545.0,314.28 L546.0,312.34 L547.0,310.39 L548.0,308.42 L549.0,306.44 L550.0,304.45 L551.0,302.46 L552.0,300.45 L553.0,298.45 L554.0,296.43 L555.0,294.42 L556.0,292.41 L557.0,290.40 L558.0,288.40 L559.0,286.40 L560.0,284.41 L561.0,282.43 L562.0,280.46 L563.0,278.50 L564.0,276.57 L565.0,274.65 L566.0,272.75 L567.0,270.87 L568.0,269.02 L569.0,267.20 L570.0,265.40 L571.0,263.64 L572.0,261.90 L573.0,260.20 L574.0,258.54 L575.0,256.91 L576.0,255.32 L577.0,253.78 L578.0,252.27 L579.0,250.81 L580.0,249.40 L581.0,248.03 L582.0,246.71 L583.0,245.44 L584.0,244.22 L585.0,243.04 L586.0,241.92 L587.0,240.86 L588.0,239.84 L589.0,238.88 L590.0,237.98 L591.0,237.13 L592.0,236.33 L593.0,235.59 L594.0,234.91 L595.0,234.27 L596.0,233.70 L597.0,233.18 L598.0,232.71 L599.0,232.30 L600.0,231.94 L601.0,231.63 L602.0,231.38 L603.0,231.18 L604.0,231.03 L605.0,230.92 L606.0,230.87 L607.0,230.87 L608.0,230.91 L609.0,231.00 L610.0,231.13 L611.0,231.31 L612.0,231.52 L613.0,231.78 L614.0,232.08 L615.0,232.42 L616.0,232.79 L617.0,233.20 L618.0,233.64 L619.0,234.12 L620.0,234.62 L621.0,235.16 L622.0,235.72 L623.0,236.31 L624.0,236.92 L625.0,237.56 L626.0,238.22 L627.0,238.90 L628.0,239.59 L629.0,240.31 L630.0,241.04 L631.0,241.79 L632.0,242.55 L633.0,243.32 L634.0,244.11 L635.0,244.90 L636.0,245.70 L637.0,246.51 L638.0,247.33 L639.0,248.15 L640.0,248.97 L641.0,249.80 L642.0,250.63 L643.0,251.46 L644.0,252.30 L645.0,253.13 L646.0,253.96 L647.0,254.79 L648.0,255.61 L649.0,256.44 L650.0,257.26 L651.0,258.07 L652.0,258.88 L653.0,259.69 L654.0,260.49 L655.0,261.29 L656.0,262.07 L657.0,262.86 L658.0,263.63 L659.0,264.40 L660.0,265.17 L661.0,265.92 L662.0,266.68 L663.0,267.42 L664.0,268.16 L665.0,268.89 L666.0,269.61 L667.0,270.33 L668.0,271.05 L669.0,271.76 L670.0,272.46 L671.0,273.16 L672.0,273.85 L673.0,274.54 L674.0,275.23 L675.0,275.92 L676.0,276.60 L677.0,277.28 L678.0,277.96 L679.0,278.63 L680.0,279.31 L681.0,279.99 L682.0,280.67 L683.0,281.35 L684.0,282.03 L685.0,282.71 L686.0,283.40 L687.0,284.09 L688.0,284.78 L689.0,285.48 L690.0,286.18 L691.0,286.89 L692.0,287.61 L693.0,288.33 L694.0,289.06 L695.0,289.80 L696.0,290.55 L697.0,291.30 L698.0,292.07 L699.0,292.84 L700.0,293.62 L701.0,294.41 L702.0,295.22 L703.0,296.03 L704.0,296.85 L705.0,297.69 L706.0,298.53 L707.0,299.39 L708.0,300.26 L709.0,301.14 L710.0,302.03 L711.0,302.93 L712.0,303.84 L713.0,304.76 L714.0,305.70 L715.0,306.64 L716.0,307.59 L717.0,308.56 L718.0,309.53 L719.0,310.51 L720.0,311.51 L721.0,312.51 L722.0,313.51 L723.0,314.53 L724.0,315.55 L725.0,316.59 L726.0,317.62 L727.0,318.67 L728.0,319.72 L729.0,320.77 L730.0,321.83 L731.0,322.89 L732.0,323.95 L733.0,325.02 L734.0,326.09 L735.0,327.17 L736.0,328.24 L737.0,329.32 L738.0,330.39 L739.0,331.47 L740.0,332.54 L741.0,333.61 L742.0,334.69 L743.0,335.76 L744.0,336.83 L745.0,337.89 L746.0,338.95 L747.0,340.01 L748.0,341.07 L749.0,342.12 L750.0,343.17 L751.0,344.22 L752.0,345.26 L753.0,346.29 L754.0,347.33 L755.0,348.35 L756.0,349.38 L757.0,350.39 L758.0,351.41 L759.0,352.41 L760.0,353.42 L761.0,354.42 L762.0,355.41 L763.0,356.40 L764.0,357.38 L765.0,358.37 L766.0,359.34 L767.0,360.31 L768.0,361.28 L769.0,362.25 L770.0,363.21 L771.0,364.16 L772.0,365.12 L773.0,366.07 L774.0,367.01 L775.0,367.96 L776.0,368.90 L777.0,369.84 L778.0,370.78 L779.0,371.71 L780.0,372.64 L781.0,373.57 L782.0,374.49 L783.0,375.42 L784.0,376.34 L785.0,377.26 L786.0,378.18 L787.0,379.09 L788.0,380.01 L789.0,380.92 L790.0,381.82 L791.0,382.73 L792.0,383.63 L793.0,384.53 L794.0,385.43 L795.0,386.32 L796.0,387.21 L797.0,388.10 L798.0,388.98 L799.0,389.85 L800.0,390.73 L801.0,391.59 L802.0,392.46 L803.0,393.31 L804.0,394.16 L805.0,395.01 L806.0,395.84 L807.0,396.67 L808.0,397.50 L809.0,398.31 L810.0,399.12 L811.0,399.91 L812.0,400.70 L813.0,401.48 L814.0,402.25 L815.0,403.00 L816.0,403.75 L817.0,404.49 L818.0,405.21 L819.0,405.92 L820.0,406.62 L821.0,407.31 L822.0,407.99 L823.0,408.65 L824.0,409.30 L825.0,409.93 L826.0,410.55 L827.0,411.16 L828.0,411.75 L829.0,412.33 L830.0,412.90 L831.0,413.45 L832.0,413.98 L833.0,414.50 L834.0,415.01 L835.0,415.50 L836.0,415.98 L837.0,416.44 L838.0,416.89 L839.0,417.33 L840.0,417.75 L841.0,418.15 L842.0,418.55 L843.0,418.93 L844.0,419.29 L845.0,419.64 L846.0,419.98 L847.0,420.31 L848.0,420.63 L849.0,420.93 L850.0,421.23 L851.0,421.51 L852.0,421.78 L853.0,422.04 L854.0,422.30 L855.0,422.54 L856.0,422.78 L857.0,423.00 L858.0,423.22 L859.0,423.43 L860.0,423.64 L861.0,423.83 L862.0,424.03 L863.0,424.21 L864.0,424.40 L865.0,424.57 L866.0,424.75 L867.0,424.92 L868.0,425.08 L869.0,425.25 L870.0,425.41 L871.0,425.57 L872.0,425.73 L873.0,425.88 L874.0,426.04 L875.0,426.20 L876.0,426.35 L877.0,426.51 L878.0,426.67 L879.0,426.82 L880.0,426.98 L881.0,427.14 L882.0,427.31 L883.0,427.47 L884.0,427.64 L885.0,427.81 L886.0,427.98 L887.0,428.15 L888.0,428.33 L889.0,428.51 L890.0,428.69 L891.0,428.87 L892.0,429.06 L893.0,429.25 L894.0,429.45 L895.0,429.64 L896.0,429.84 L897.0,430.05 L898.0,430.25 L899.0,430.46 L900.0,430.67 L901.0,430.89 L902.0,431.10 L903.0,431.32 L904.0,431.54 L905.0,431.77 L906.0,431.99 L907.0,432.22 L908.0,432.45 L909.0,432.68 L910.0,432.91 L911.0,433.14 L912.0,433.38 L913.0,433.61 L914.0,433.84 L915.0,434.08 L916.0,434.31 L917.0,434.55 L918.0,434.78 L919.0,435.02 L920.0,435.25 L921.0,435.48 L922.0,435.71 L923.0,435.94 L924.0,436.17 L925.0,436.40 L926.0,436.62 L927.0,436.84 L928.0,437.06 L929.0,437.28 L930.0,437.50 L931.0,437.71 L932.0,437.92 L933.0,438.13 L934.0,438.33 L935.0,438.53 L936.0,438.73 L937.0,438.92 L938.0,439.12 L939.0,439.30 L940.0,439.49 L941.0,439.67 L942.0,439.84 L943.0,440.01 L944.0,440.18 L945.0,440.35 L946.0,440.51 L947.0,440.66 L948.0,440.81 L949.0,440.96 L950.0,441.11 L951.0,441.25 L952.0,441.38 L953.0,441.52 L954.0,441.64 L955.0,441.77 L956.0,441.89 L957.0,442.01 L958.0,442.12 L959.0,442.23 L960.0,442.33 L961.0,442.43 L962.0,442.53 L963.0,442.63 L964.0,442.72 L965.0,442.80 L966.0,442.89 L967.0,442.97 L968.0,443.05 L969.0,443.12 L970.0,443.19 L971.0,443.26 L972.0,443.33 L973.0,443.39 L974.0,443.45 L975.0,443.51 L976.0,443.56 L977.0,443.61 L978.0,443.66 L979.0,443.71 L980.0,443.76 L981.0,443.80 L982.0,443.84 L983.0,443.88 L984.0,443.92 L985.0,443.95 L986.0,443.98 L987.0,444.02 L988.0,444.05 L989.0,444.07 L990.0,444.10 L991.0,444.13 L992.0,444.15 L993.0,444.17 L994.0,444.19 L995.0,444.21 L996.0,444.23 L997.0,444.25 L998.0,444.27 L999.0,444.28 L1000.0,444.30" stroke="#CCBB44" stroke-width="8.33"/>
</g>
<g stroke="#4d4d4d" stroke-width="3.33" fill="none" stroke-linecap="butt">
<line x1="85.2" y1="123.3" x2="85.2" y2="446.1"/>
<line x1="70.8" y1="125.00" x2="85.2" y2="125.00"/>
<line x1="70.8" y1="231.50" x2="85.2" y2="231.50"/>
<line x1="70.8" y1="338.00" x2="85.2" y2="338.00"/>
<line x1="70.8" y1="444.50" x2="85.2" y2="444.50"/>
<line x1="94.53" y1="452.8" x2="923.17" y2="452.8"/>
<line x1="96.2" y1="452.8" x2="96.2" y2="467.0"/>
<line x1="187.9" y1="452.8" x2="187.9" y2="467.0"/>
<line x1="279.6" y1="452.8" x2="279.6" y2="467.0"/>
<line x1="371.3" y1="452.8" x2="371.3" y2="467.0"/>
<line x1="463.0" y1="452.8" x2="463.0" y2="467.0"/>
<line x1="554.7" y1="452.8" x2="554.7" y2="467.0"/>
<line x1="646.4" y1="452.8" x2="646.4" y2="467.0"/>
<line x1="738.1" y1="452.8" x2="738.1" y2="467.0"/>
<line x1="829.8" y1="452.8" x2="829.8" y2="467.0"/>
<line x1="921.5" y1="452.8" x2="921.5" y2="467.0"/>
</g>
<g fill="#4d4d4d" font-size="41.67px">
<text transform="translate(56.6,140.4) scale(0.962,1.0)" text-anchor="end">6</text>
<text transform="translate(56.6,459.9) scale(0.962,1.0)" text-anchor="end">0</text>
<text transform="translate(279.6,510.3) scale(0.962,1.0)" text-anchor="middle">4.0</text>
<text transform="translate(829.8,510.3) scale(0.962,1.0)" text-anchor="middle">4.6</text>
<text transform="translate(388.8,536.5) scale(0.987,1)" text-anchor="start">expected risk</text>
<text transform="translate(641.6,536.5) scale(0.78,1)" text-anchor="start" class="m" font-size="44px" stroke="#4d4d4d" stroke-width="0.7">(</text>
<g transform="translate(650,500)" fill="none" stroke="#4d4d4d" stroke-linecap="butt" stroke-linejoin="round"><path d="M12.2,8.9 L27.2,8.9" stroke-width="1.6"/><path d="M5.8,34.5 L17,34.5" stroke-width="1.6"/><path d="M15.6,21.6 L26,21.6" stroke-width="1.5"/><path d="M18.7,8.9 L12.5,34.5" stroke-width="3.6"/><path d="M27,8.9 C31.5,8.9 33.6,10.6 33.3,14 C33,17.6 30,21.2 25.2,21.6" stroke-width="3.1"/><path d="M23.8,21.8 C26.2,22.8 26.3,25.5 26.6,28.5 C26.9,32.5 27.4,35.1 29.6,35.2" stroke-width="3"/><path d="M29.4,35.3 C31.4,35.3 32.8,33.6 33.6,31.2" stroke-width="1.5"/></g>
<text transform="translate(685.0,536.5) scale(0.78,1)" text-anchor="start" class="m" font-size="44px" stroke="#4d4d4d" stroke-width="0.7">)</text>
<text transform="translate(30.4,354.4) rotate(-90) scale(0.987,1)" text-anchor="start">Density</text>
</g>
<g font-size="41.67px" fill="#333333">
<line x1="125.5" y1="21.2" x2="190" y2="21.2" stroke="#4477AA" stroke-width="8.33"/>
<text transform="translate(203.8,35.8) scale(0.992,0.967)" text-anchor="start">Model A</text>
<line x1="125.5" y1="66.2" x2="190" y2="66.2" stroke="#EE6677" stroke-width="8.33"/>
<text transform="translate(203.8,80.8) scale(0.992,0.967)" text-anchor="start">Model B</text>
<line x1="125.5" y1="111.2" x2="190" y2="111.2" stroke="#228833" stroke-width="8.33"/>
<text transform="translate(203.8,125.8) scale(0.992,0.967)" text-anchor="start">Model C</text>
<line x1="125.5" y1="156.2" x2="190" y2="156.2" stroke="#CCBB44" stroke-width="8.33"/>
<text transform="translate(203.8,170.8) scale(0.992,0.967)" text-anchor="start">Model D</text>
</g>
</svg></body></html>
